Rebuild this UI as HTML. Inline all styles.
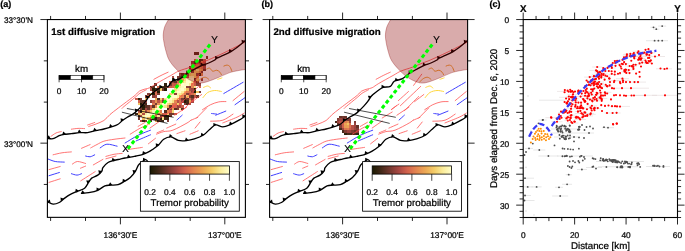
<!DOCTYPE html>
<html><head><meta charset="utf-8"><title>Figure</title>
<style>html,body{margin:0;padding:0;background:#fff;}svg{display:block;will-change:transform;}text{font-family:"Liberation Sans", sans-serif;fill:#000;text-rendering:geometricPrecision;stroke:#000;stroke-width:0.22px;}</style>
</head><body>
<svg width="685" height="251" viewBox="0 0 685 251">
<defs>
<linearGradient id="laj" x1="0" y1="0" x2="1" y2="0"><stop offset="0" stop-color="#1A1A01"/><stop offset="0.11" stop-color="#422818"/><stop offset="0.22" stop-color="#73382F"/><stop offset="0.33" stop-color="#A54742"/><stop offset="0.44" stop-color="#D2624D"/><stop offset="0.56" stop-color="#E48751"/><stop offset="0.67" stop-color="#ECA855"/><stop offset="0.78" stop-color="#F4CC68"/><stop offset="0.89" stop-color="#FBEC9A"/><stop offset="1" stop-color="#FFFECB"/></linearGradient>
<clipPath id="clipmap"><rect x="47.4" y="19.55" width="198" height="197.8"/></clipPath>
<g id="mapbase">
<g fill="none" stroke="#ff4848" stroke-width="0.75" stroke-linecap="round" stroke-linejoin="round">
<path d="M51,136.3 C51.83,135.75 54.3,133.78 56,133 C57.7,132.22 60.33,131.83 61.2,131.6"/>
<path d="M71.4,129.2 C72.5,129.07 75.8,128.5 78,128.4 C80.2,128.3 83.5,128.57 84.6,128.6"/>
<path d="M88.7,126.5 C89.92,126.08 93.47,125 96,124 C98.53,123 101.57,122.08 103.9,120.5 C106.23,118.92 107.82,116.42 110,114.5 C112.18,112.58 114.67,110.8 117,109 C119.33,107.2 120.98,105.98 124,103.7 C127.02,101.42 132.55,97.38 135.1,95.3 C137.65,93.22 137.67,92.23 139.3,91.2 C140.93,90.17 143.12,89.68 144.9,89.1 C146.68,88.52 148.07,88.63 150,87.7 C151.93,86.77 153.03,85.53 156.5,83.5 C159.97,81.47 167.07,77.58 170.8,75.5 C174.53,73.42 175.65,72.38 178.9,71 C182.15,69.62 186.78,68.5 190.3,67.2 C193.82,65.9 196.98,64.42 200,63.2 C203.02,61.98 204.43,61.62 208.4,59.9 C212.37,58.18 219.37,55 223.8,52.9 C228.23,50.8 231.52,49.08 235,47.3 C238.48,45.52 243.08,43.05 244.7,42.2"/>
<path d="M87.6,125 C88.78,124.58 93.52,122.92 94.7,122.5"/>
<path d="M122,108.3 C122.33,108 121.82,108.32 124,106.5 C126.18,104.68 132.43,99.62 135.1,97.4 C137.77,95.18 138.13,94.47 140,93.2 C141.87,91.93 145.25,90.37 146.3,89.8"/>
<path d="M153.9,79.3 C155.08,78.67 158.63,76.68 161,75.5 C163.37,74.32 166.92,72.75 168.1,72.2"/>
<path d="M53.1,154.8 C54.58,154.47 58.95,153.28 62,152.8 C65.05,152.32 69.83,152.05 71.4,151.9"/>
<path d="M81.5,148.3 C82.93,147.68 88.67,145.22 90.1,144.6"/>
<path d="M90.7,147.9 C91.75,147.33 94.8,145.62 97,144.5 C99.2,143.38 101.07,142.07 103.9,141.2 C106.73,140.33 110.48,139.83 114,139.3 C117.52,138.77 123.17,138.22 125,138"/>
<path d="M72.4,164.1 C73.25,163.67 75.3,161.6 77.5,161.5 C79.7,161.4 84.25,163.17 85.6,163.5"/>
<path d="M80.5,168.2 C81.35,167.85 84.75,166.45 85.6,166.1"/>
<path d="M49,169.6 C50.87,169.08 58.33,167.02 60.2,166.5"/>
<path d="M93.3,164.9 C94.9,163.98 101.3,160.32 102.9,159.4"/>
<path d="M105.9,156.4 C107.25,156.05 111.28,154.8 114,154.3 C116.72,153.8 120.83,153.55 122.2,153.4"/>
<path d="M105.9,158.8 C107.58,158.33 114.32,156.47 116,156"/>
<path d="M80.8,180.8 C83.2,179.27 92.8,173.13 95.2,171.6"/>
<path d="M49,182.4 C50.87,181.8 58.33,179.4 60.2,178.8"/>
<path d="M130.2,134.2 C131.88,133.18 137.43,129.62 140.3,128.1 C143.17,126.58 146.22,125.6 147.4,125.1"/>
<path d="M128.1,149.5 C130.47,149.15 139.93,147.75 142.3,147.4"/>
<path d="M148.4,143.8 C149.58,142.88 154.32,139.22 155.5,138.3"/>
<path d="M156.5,134.2 C157.7,133.77 160.98,132.27 163.7,131.6 C166.42,130.93 168.92,131.63 172.8,130.2 C176.68,128.77 183.97,124.7 187,123 C190.03,121.3 190.33,120.5 191,120"/>
<path d="M157,132.8 C158.12,132.33 162.58,130.47 163.7,130"/>
<path d="M176.9,133.6 C178.25,133.13 183.65,131.27 185,130.8"/>
<path d="M190,134.2 C191.37,133.63 196.83,131.37 198.2,130.8"/>
<path d="M195.1,128.1 C195.92,127.08 199.18,123.02 200,122"/>
<path d="M166.7,128.1 C168.22,127.43 174.28,124.77 175.8,124.1"/>
<path d="M196.4,118.2 C198.08,116.5 204.82,109.7 206.5,108"/>
<path d="M210.6,121.2 C212.63,121.03 219.07,121.38 222.8,120.2 C226.53,119.02 231.3,115.12 233,114.1"/>
<path d="M222.8,122.9 C225.17,121.95 233.45,118.83 237,117.2 C240.55,115.57 242.92,113.78 244.1,113.1"/>
<path d="M233,100.6 C234.85,99.08 242.25,93.02 244.1,91.5"/>
<path d="M202.5,109.7 C203.85,108.87 207.88,106 210.6,104.7 C213.32,103.4 216.25,102.42 218.8,101.9 C221.35,101.38 224.72,101.65 225.9,101.6"/>
<path d="M169.6,109.1 C170.78,108.27 175.52,104.93 176.7,104.1"/>
<path d="M174.7,115.2 C176.72,113.85 184.78,108.45 186.8,107.1"/>
<path d="M190.9,120.3 C192.05,119.8 196.65,117.8 197.8,117.3"/>
<path d="M176.2,100.6 C177.88,99.08 184.62,93.02 186.3,91.5"/>
<path d="M178.2,105.7 C181.58,102.48 195.12,89.62 198.5,86.4"/>
<path d="M191.4,85.4 C192.75,83.53 198.15,76.07 199.5,74.2"/>
<path d="M192.4,101.6 C193.93,100.42 200.07,95.68 201.6,94.5"/>
<path d="M169.1,109.7 C169.95,109.03 173.35,106.37 174.2,105.7"/>
<path d="M138.1,126.4 C139.28,125.72 144.02,122.98 145.2,122.3"/>
<path d="M150,128 C151.67,126.83 158.33,122.17 160,121"/>
<path d="M160,118 C161.67,117 168.33,113 170,112"/>
<path d="M182.2,110.8 C184.57,108.42 194.03,98.88 196.4,96.5"/>
</g>
<g fill="none" stroke="#4040ff" stroke-width="1.0" stroke-linecap="round" stroke-linejoin="round">
<path d="M48,159 C49.2,159.42 52.48,160.98 55.2,161.5 C57.92,162.02 62.78,162 64.3,162.1"/>
<path d="M85.6,156 C86.35,156.13 88.58,157 90.1,156.8 C91.62,156.6 93.93,155.13 94.7,154.8"/>
<path d="M100.2,147.9 C101.32,147.28 104.08,144.48 106.9,144.2 C109.72,143.92 115.4,145.87 117.1,146.2"/>
<path d="M49,175.7 C50.73,175.17 57.67,173.03 59.4,172.5"/>
<path d="M71.4,173.7 C72.33,173.93 75.32,175.1 77,175.1 C78.68,175.1 80.75,173.93 81.5,173.7"/>
<path d="M125.1,143 C127.3,141.7 134.07,137.33 138.3,135.2 C142.53,133.07 148.47,131.03 150.5,130.2"/>
<path d="M136.2,140.9 C138.58,139.88 148.12,135.82 150.5,134.8"/>
<path d="M176.9,120 C177.78,119.2 181.32,116 182.2,115.2"/>
<path d="M211.6,113.5 C212.45,113.6 215.85,114 216.7,114.1"/>
<path d="M215.7,115.2 C217.38,114.52 224.12,111.78 225.8,111.1"/>
<path d="M223.8,93.5 C227.02,91.63 239.88,84.17 243.1,82.3"/>
<path d="M235,104.7 C236.68,103.52 243.42,98.78 245.1,97.6"/>
</g>
<g fill="none" stroke="#f0a53c" stroke-width="1.0" stroke-linecap="round" stroke-linejoin="round">
<path d="M206.7,69.1 C207.2,68.93 208.7,67.75 209.7,68.1 C210.7,68.45 211.52,70.85 212.7,71.2 C213.88,71.55 215.6,70.03 216.8,70.2 C218,70.37 219.15,71.47 219.9,72.2 C220.65,72.93 221.07,74.2 221.3,74.6"/>
<path d="M197.5,81.9 C198.18,81.3 200.25,79.07 201.6,78.3 C202.95,77.53 204.42,77.13 205.6,77.3 C206.78,77.47 208.18,78.97 208.7,79.3"/>
<path d="M223.9,66.1 C224.4,65.93 225.92,65.03 226.9,65.1 C227.88,65.17 228.97,65.48 229.8,66.5 C230.63,67.52 231.55,70.42 231.9,71.2"/>
</g>
<g fill="none" stroke="#ffd840" stroke-width="1.0" stroke-linecap="round" stroke-linejoin="round">
<path d="M203.6,87.4 C204.28,87.17 206.52,85.9 207.7,86 C208.88,86.1 210.2,87.67 210.7,88"/>
<path d="M203,97.6 C203.78,96.75 205.73,93.68 207.7,92.5 C209.67,91.32 212.53,90.67 214.8,90.5 C217.07,90.33 220.22,91.33 221.3,91.5"/>
<path d="M217.8,79.3 C218.48,79.07 221.22,78.13 221.9,77.9"/>
</g>
</g>
<g id="maplines">
<g fill="none" stroke="#000" stroke-width="0.7">
<path d="M126.9,108.5 L173.6,117.3" />
<path d="M121.9,112.2 L167.5,123.4" />
</g>
<g fill="none" stroke="#000" stroke-width="1.35" stroke-linejoin="round" stroke-linecap="round">
<path d="M47.4,138.3 C48.35,138.37 51.13,139.13 53.1,138.7 C55.07,138.27 57.33,136.43 59.2,135.7 C61.07,134.97 62.27,134.63 64.3,134.3 C66.33,133.97 68.87,133.98 71.4,133.7 C73.93,133.42 76.8,132.78 79.5,132.6 C82.2,132.42 84.88,132.93 87.6,132.6 C90.32,132.27 93.08,131.2 95.8,130.6 C98.52,130 101.3,129.63 103.9,129 C106.5,128.37 109.1,127.55 111.4,126.8 C113.7,126.05 115.85,125.55 117.7,124.5 C119.55,123.45 120.9,121.7 122.5,120.5 C124.1,119.3 125.57,118.37 127.3,117.3 C129.03,116.23 131.32,115.17 132.9,114.1 C134.48,113.03 135.35,112.23 136.8,110.9 C138.25,109.57 140.13,107.68 141.6,106.1 C143.07,104.52 144.4,102.98 145.6,101.4 C146.8,99.82 147.93,97.73 148.8,96.6 C149.67,95.47 149.62,95.62 150.8,94.6 C151.98,93.58 154.2,91.7 155.9,90.5 C157.6,89.3 158.97,88.08 161,87.4 C163.03,86.72 166.25,87.42 168.1,86.4 C169.95,85.38 170.07,82.58 172.1,81.3 C174.13,80.02 177.75,80.05 180.3,78.7 C182.85,77.35 184.7,74.97 187.4,73.2 C190.1,71.43 193.97,69.45 196.5,68.1 C199.03,66.75 200.57,65.95 202.6,65.1 C204.63,64.25 206.67,63.85 208.7,63 C210.73,62.15 213.43,60.8 214.8,60 C216.17,59.2 215.42,59 216.9,58.2 C218.38,57.4 221.43,56.27 223.7,55.2 C225.97,54.13 228.23,53.12 230.5,51.8 C232.77,50.48 235.02,49 237.3,47.3 C239.58,45.6 242.75,42.82 244.2,41.6 C245.65,40.38 245.7,40.27 246,40"/>
<path d="M47.4,201.5 C47.5,201.6 47.05,201.67 48,202.1 C48.95,202.53 51.23,204.03 53.1,204.1 C54.97,204.17 57.33,203.45 59.2,202.5 C61.07,201.55 62.43,199.75 64.3,198.4 C66.17,197.05 68.2,195.58 70.4,194.4 C72.6,193.22 75.13,192.32 77.5,191.3 C79.87,190.28 82.73,189.82 84.6,188.3 C86.47,186.78 87.52,183.9 88.7,182.2 C89.88,180.5 90.18,179.28 91.7,178.1 C93.22,176.92 96.1,176.28 97.8,175.1 C99.5,173.92 101.05,172.25 101.9,171 C102.75,169.75 101.88,169.02 102.9,167.6 C103.92,166.18 106.15,163.68 108,162.5 C109.85,161.32 111.97,161.07 114,160.5 C116.03,159.93 118.37,159.52 120.2,159.1 C122.03,158.68 123.32,158.32 125,158 C126.68,157.68 128.47,157.53 130.3,157.2 C132.13,156.87 134,156.43 136,156 C138,155.57 140.37,155.2 142.3,154.6 C144.23,154 145.9,153.25 147.6,152.4 C149.3,151.55 150.67,150.73 152.5,149.5 C154.33,148.27 156.73,146.7 158.6,145 C160.47,143.3 161.67,140.65 163.7,139.3 C165.73,137.95 168.37,136.72 170.8,136.9 C173.23,137.08 175.7,139.78 178.3,140.4 C180.9,141.02 183.72,140.85 186.4,140.6 C189.08,140.35 191.55,139.83 194.4,138.9 C197.25,137.97 200.97,136.58 203.5,135 C206.03,133.42 207.57,131.08 209.6,129.4 C211.63,127.72 213.5,125.32 215.7,124.9 C217.9,124.48 220.27,127 222.8,126.9 C225.33,126.8 228.2,125.42 230.9,124.3 C233.6,123.18 236.63,121.55 239,120.2 C241.37,118.85 243.93,116.98 245.1,116.2 C246.27,115.42 245.85,115.62 246,115.5"/>
<path d="M81.5,193.4 C82.7,193.28 85.98,193.22 88.7,192.7 C91.42,192.18 95.1,191.45 97.8,190.3 C100.5,189.15 102.7,186.65 104.9,185.8 C107.1,184.95 108.8,185.4 111,185.2 C113.2,185 115.9,185.22 118.1,184.6 C120.3,183.98 122.17,182.7 124.2,181.5 C126.23,180.3 128.43,179.1 130.3,177.4 C132.17,175.7 134.05,173.33 135.4,171.3 C136.75,169.27 137.38,166.7 138.4,165.2 C139.42,163.7 140.3,163.22 141.5,162.3 C142.7,161.38 144.52,159.75 145.6,159.7 C146.68,159.65 147.27,161.12 148,162 C148.73,162.88 149.67,164.5 150,165"/>
</g>
<g fill="#000" stroke="none">
<path d="M46.66,138.25 L50.55,138.52 L48.81,135.35 Z"/>
<path d="M62.14,134.89 L65.9,133.86 L63.22,131.44 Z"/>
<path d="M77.57,132.86 L81.43,132.34 L79.09,129.59 Z"/>
<path d="M93.1,131.26 L96.89,130.33 L94.28,127.84 Z"/>
<path d="M109.11,127.47 L112.85,126.38 L110.12,124 Z"/>
<path d="M121,121.75 L124,119.25 L120.55,118.16 Z"/>
<path d="M135.29,112.14 L138.31,109.66 L134.87,108.55 Z"/>
<path d="M147.1,99.15 L149.27,95.9 L145.65,95.84 Z"/>
<path d="M159.33,88.41 L162.67,86.39 L159.42,84.8 Z"/>
<path d="M172.44,81.19 L176.16,80.01 L173.38,77.7 Z"/>
<path d="M186.33,73.8 L189.73,71.9 L186.54,70.19 Z"/>
<path d="M200.45,66.16 L203.95,64.44 L200.86,62.57 Z"/>
<path d="M215.42,59.47 L218.38,56.93 L214.92,55.89 Z"/>
<path d="M228.76,52.67 L232.24,50.93 L229.14,49.08 Z"/>
<path d="M241.99,43.43 L244.99,40.95 L241.55,39.84 Z"/>
<path d="M46.91,201.67 L50.54,203.1 L49.84,199.55 Z"/>
<path d="M60.88,201.15 L63.92,198.7 L60.5,197.56 Z"/>
<path d="M75.22,192.3 L78.79,190.74 L75.79,188.73 Z"/>
<path d="M87.61,183.82 L89.79,180.58 L86.18,180.5 Z"/>
<path d="M99.07,173.83 L101.83,171.07 L98.3,170.3 Z"/>
<path d="M111.64,161.29 L115.34,160.05 L112.53,157.78 Z"/>
<path d="M126.78,157.73 L130.63,157.15 L128.25,154.43 Z"/>
<path d="M142.32,154.59 L145.92,153.1 L142.95,151.04 Z"/>
<path d="M156,146.92 L159.14,144.6 L155.76,143.31 Z"/>
<path d="M168.95,137.52 L172.65,136.28 L169.83,134.02 Z"/>
<path d="M184.68,140.96 L188.5,140.15 L185.96,137.58 Z"/>
<path d="M200.72,136.19 L204.3,134.66 L201.31,132.63 Z"/>
<path d="M213.55,126.49 L216.69,124.17 L213.31,122.88 Z"/>
<path d="M229.04,124.9 L232.76,123.7 L229.97,121.4 Z"/>
<path d="M242.38,117.98 L245.64,115.85 L242.34,114.37 Z"/>
<path d="M80.86,193.46 L84.74,193.09 L82.5,190.25 Z"/>
<path d="M96.53,191.11 L99.82,189.02 L96.55,187.49 Z"/>
<path d="M108.46,185.45 L112.34,185.07 L110.1,182.23 Z"/>
<path d="M122.46,182.38 L125.94,180.62 L122.82,178.79 Z"/>
<path d="M133.56,173.5 L136.06,170.51 L132.47,170.06 Z"/>
<path d="M142.97,161.37 L146.26,159.28 L142.99,157.76 Z"/>
</g>
</g>
<path id="blob" d="M168.5,19.5 C167.85,20.75 165.48,24.42 164.6,27 C163.72,29.58 163.32,32.5 163.2,35 C163.08,37.5 163.48,39.47 163.9,42 C164.32,44.53 164.83,47.2 165.7,50.2 C166.57,53.2 167.35,56.85 169.1,60 C170.85,63.15 173.5,66.22 176.2,69.1 C178.9,71.98 182.08,75.1 185.3,77.3 C188.52,79.5 192.62,81.37 195.5,82.3 C198.38,83.23 200.07,83.2 202.6,82.9 C205.13,82.6 208,81.43 210.7,80.5 C213.4,79.57 215.62,78.62 218.8,77.3 C221.98,75.98 226.27,73.77 229.8,72.6 C233.33,71.43 237.13,70.85 240,70.3 C242.87,69.75 245.83,69.47 247,69.3 L247,19.5 Z" fill="#8b0000" fill-opacity="0.33" stroke="#8b0000" stroke-opacity="0.45" stroke-width="0.7"/>
<g id="mapstatic">
<g id="frame" fill="none" stroke="#000">
<rect x="47.4" y="19.55" width="198" height="197.8" stroke-width="1.1"/>
<path d="M120.4,19.55 v-7 M120.4,217.35 v7 M224.8,19.55 v-7 M224.8,217.35 v7 M50.6,19.55 v-3.6 M50.6,217.35 v3.6 M85.5,19.55 v-3.6 M85.5,217.35 v3.6 M155.3,19.55 v-3.6 M155.3,217.35 v3.6 M190.2,19.55 v-3.6 M190.2,217.35 v3.6 M47.4,19.55 h-7 M245.4,19.55 h7 M47.4,143.15 h-7 M245.4,143.15 h7 M47.4,60.85 h-3.6 M245.4,60.85 h3.6 M47.4,102.1 h-3.6 M245.4,102.1 h3.6 M47.4,184.45 h-3.6 M245.4,184.45 h3.6 " stroke-width="0.85"/>
</g>
<text x="120.4" y="237.8" font-size="8.35" text-anchor="middle">136°30'E</text>
<text x="224.8" y="237.8" font-size="8.35" text-anchor="middle">137°00'E</text>
<g id="scalebar">
<rect x="59.1" y="75.3" width="11.22" height="4.3" fill="#000" stroke="#000" stroke-width="0.6"/>
<rect x="70.32" y="75.3" width="11.22" height="4.3" fill="#fff" stroke="#000" stroke-width="0.6"/>
<rect x="81.54" y="75.3" width="11.22" height="4.3" fill="#000" stroke="#000" stroke-width="0.6"/>
<rect x="92.76" y="75.3" width="11.22" height="4.3" fill="#fff" stroke="#000" stroke-width="0.6"/>
<path d="M59.1,75.3 V82.3 M81.54,75.3 V82.3 M103.98,75.3 V82.3 " stroke="#000" stroke-width="0.7" fill="none"/>
<text x="59.1" y="94" font-size="8.35" text-anchor="middle">0</text>
<text x="81.54" y="94" font-size="8.35" text-anchor="middle">10</text>
<text x="103.98" y="94" font-size="8.35" text-anchor="middle">20</text>
<text x="81.5" y="71.6" font-size="9.75" text-anchor="middle">km</text>
</g>
<g id="legend">
<rect x="140.4" y="161.6" width="98.9" height="49.6" fill="#fff" stroke="#000" stroke-width="0.85"/>
<rect x="150" y="165.9" width="79.4" height="8.2" fill="url(#laj)" stroke="#000" stroke-width="0.8"/>
<path d="M150,174.1 V180.8 M169.85,174.1 V180.8 M189.7,174.1 V180.8 M209.55,174.1 V180.8 M229.4,174.1 V180.8 " stroke="#000" stroke-width="0.7" fill="none"/>
<text x="150" y="194.8" font-size="8.35" text-anchor="middle">0.2</text>
<text x="169.85" y="194.8" font-size="8.35" text-anchor="middle">0.4</text>
<text x="189.7" y="194.8" font-size="8.35" text-anchor="middle">0.6</text>
<text x="209.55" y="194.8" font-size="8.35" text-anchor="middle">0.8</text>
<text x="229.4" y="194.8" font-size="8.35" text-anchor="middle">1.0</text>
<text x="189.7" y="206" font-size="9.75" text-anchor="middle">Tremor probability</text>
</g>
<text x="125.4" y="152.3" font-size="9.75" text-anchor="middle">X</text>
<text x="214.4" y="42.9" font-size="9.75" text-anchor="middle">Y</text>
</g>
</defs>
<rect width="685" height="251" fill="#fff"/>
<g>
<g clip-path="url(#clipmap)">
<g shape-rendering="crispEdges">
<rect x="205.86" y="56.38" width="2.49" height="2.49" fill="#7a3a32"/>
<rect x="193.66" y="58.82" width="2.49" height="2.49" fill="#d4674e"/>
<rect x="198.54" y="58.82" width="2.49" height="2.49" fill="#402717"/>
<rect x="200.98" y="58.82" width="2.49" height="2.49" fill="#552e21"/>
<rect x="203.42" y="58.82" width="2.49" height="2.49" fill="#cf604c"/>
<rect x="191.22" y="61.26" width="2.49" height="2.49" fill="#8f403a"/>
<rect x="193.66" y="61.26" width="2.49" height="2.49" fill="#4a2b1c"/>
<rect x="196.1" y="61.26" width="2.49" height="2.49" fill="#a44742"/>
<rect x="198.54" y="61.26" width="2.49" height="2.49" fill="#4f2c1e"/>
<rect x="200.98" y="61.26" width="2.49" height="2.49" fill="#e69052"/>
<rect x="203.42" y="61.26" width="2.49" height="2.49" fill="#bd5548"/>
<rect x="191.22" y="63.7" width="2.49" height="2.49" fill="#d76d4e"/>
<rect x="193.66" y="63.7" width="2.49" height="2.49" fill="#c35949"/>
<rect x="196.1" y="63.7" width="2.49" height="2.49" fill="#e48851"/>
<rect x="198.54" y="63.7" width="2.49" height="2.49" fill="#d4654d"/>
<rect x="200.98" y="63.7" width="2.49" height="2.49" fill="#7c3b32"/>
<rect x="203.42" y="63.7" width="2.49" height="2.49" fill="#592f23"/>
<rect x="188.78" y="66.14" width="2.49" height="2.49" fill="#743830"/>
<rect x="191.22" y="66.14" width="2.49" height="2.49" fill="#e48951"/>
<rect x="193.66" y="66.14" width="2.49" height="2.49" fill="#e99a53"/>
<rect x="196.1" y="66.14" width="2.49" height="2.49" fill="#e38451"/>
<rect x="198.54" y="66.14" width="2.49" height="2.49" fill="#e79453"/>
<rect x="200.98" y="66.14" width="2.49" height="2.49" fill="#de7a50"/>
<rect x="203.42" y="66.14" width="2.49" height="2.49" fill="#ab4a43"/>
<rect x="188.78" y="68.58" width="2.49" height="2.49" fill="#ae4c44"/>
<rect x="191.22" y="68.58" width="2.49" height="2.49" fill="#813c34"/>
<rect x="193.66" y="68.58" width="2.49" height="2.49" fill="#eca755"/>
<rect x="196.1" y="68.58" width="2.49" height="2.49" fill="#f9e48e"/>
<rect x="198.54" y="68.58" width="2.49" height="2.49" fill="#efb55c"/>
<rect x="200.98" y="68.58" width="2.49" height="2.49" fill="#e99d54"/>
<rect x="203.42" y="68.58" width="2.49" height="2.49" fill="#6c362c"/>
<rect x="186.34" y="71.02" width="2.49" height="2.49" fill="#b04e45"/>
<rect x="191.22" y="71.02" width="2.49" height="2.49" fill="#893f37"/>
<rect x="193.66" y="71.02" width="2.49" height="2.49" fill="#f3c765"/>
<rect x="196.1" y="71.02" width="2.49" height="2.49" fill="#f1c162"/>
<rect x="198.54" y="71.02" width="2.49" height="2.49" fill="#e58c52"/>
<rect x="200.98" y="71.02" width="2.49" height="2.49" fill="#813c34"/>
<rect x="179.02" y="73.46" width="2.49" height="2.49" fill="#90413a"/>
<rect x="181.46" y="73.46" width="2.49" height="2.49" fill="#5a3023"/>
<rect x="183.9" y="73.46" width="2.49" height="2.49" fill="#a64742"/>
<rect x="186.34" y="73.46" width="2.49" height="2.49" fill="#93423b"/>
<rect x="188.78" y="73.46" width="2.49" height="2.49" fill="#f2c464"/>
<rect x="191.22" y="73.46" width="2.49" height="2.49" fill="#f6d474"/>
<rect x="193.66" y="73.46" width="2.49" height="2.49" fill="#f5d272"/>
<rect x="196.1" y="73.46" width="2.49" height="2.49" fill="#92413b"/>
<rect x="198.54" y="73.46" width="2.49" height="2.49" fill="#3a2513"/>
<rect x="200.98" y="73.46" width="2.49" height="2.49" fill="#e68f52"/>
<rect x="171.7" y="75.9" width="2.49" height="2.49" fill="#ab4a43"/>
<rect x="176.58" y="75.9" width="2.49" height="2.49" fill="#793a31"/>
<rect x="179.02" y="75.9" width="2.49" height="2.49" fill="#613226"/>
<rect x="181.46" y="75.9" width="2.49" height="2.49" fill="#442919"/>
<rect x="183.9" y="75.9" width="2.49" height="2.49" fill="#e48751"/>
<rect x="186.34" y="75.9" width="2.49" height="2.49" fill="#ba5447"/>
<rect x="188.78" y="75.9" width="2.49" height="2.49" fill="#fcf2a9"/>
<rect x="191.22" y="75.9" width="2.49" height="2.49" fill="#fdf5b1"/>
<rect x="193.66" y="75.9" width="2.49" height="2.49" fill="#f5cf6d"/>
<rect x="196.1" y="75.9" width="2.49" height="2.49" fill="#ea9f54"/>
<rect x="171.7" y="78.34" width="2.49" height="2.49" fill="#3b2514"/>
<rect x="176.58" y="78.34" width="2.49" height="2.49" fill="#69352a"/>
<rect x="179.02" y="78.34" width="2.49" height="2.49" fill="#aa4a43"/>
<rect x="181.46" y="78.34" width="2.49" height="2.49" fill="#e89753"/>
<rect x="183.9" y="78.34" width="2.49" height="2.49" fill="#f7db80"/>
<rect x="186.34" y="78.34" width="2.49" height="2.49" fill="#fefcc5"/>
<rect x="188.78" y="78.34" width="2.49" height="2.49" fill="#fffecb"/>
<rect x="191.22" y="78.34" width="2.49" height="2.49" fill="#fffecb"/>
<rect x="193.66" y="78.34" width="2.49" height="2.49" fill="#5d3125"/>
<rect x="196.1" y="78.34" width="2.49" height="2.49" fill="#f3c665"/>
<rect x="200.98" y="78.34" width="2.49" height="2.49" fill="#95423c"/>
<rect x="169.26" y="80.78" width="2.49" height="2.49" fill="#ce5f4c"/>
<rect x="171.7" y="80.78" width="2.49" height="2.49" fill="#8f403a"/>
<rect x="174.14" y="80.78" width="2.49" height="2.49" fill="#633327"/>
<rect x="176.58" y="80.78" width="2.49" height="2.49" fill="#d5694e"/>
<rect x="179.02" y="80.78" width="2.49" height="2.49" fill="#f4cb67"/>
<rect x="181.46" y="80.78" width="2.49" height="2.49" fill="#f4cd6a"/>
<rect x="183.9" y="80.78" width="2.49" height="2.49" fill="#fbed9d"/>
<rect x="186.34" y="80.78" width="2.49" height="2.49" fill="#fffecb"/>
<rect x="188.78" y="80.78" width="2.49" height="2.49" fill="#fffecb"/>
<rect x="191.22" y="80.78" width="2.49" height="2.49" fill="#f9e48e"/>
<rect x="193.66" y="80.78" width="2.49" height="2.49" fill="#d4654d"/>
<rect x="196.1" y="80.78" width="2.49" height="2.49" fill="#783931"/>
<rect x="154.62" y="83.22" width="2.49" height="2.49" fill="#542e21"/>
<rect x="164.38" y="83.22" width="2.49" height="2.49" fill="#30220e"/>
<rect x="169.26" y="83.22" width="2.49" height="2.49" fill="#7f3c34"/>
<rect x="171.7" y="83.22" width="2.49" height="2.49" fill="#cc5e4b"/>
<rect x="174.14" y="83.22" width="2.49" height="2.49" fill="#c25849"/>
<rect x="176.58" y="83.22" width="2.49" height="2.49" fill="#e89653"/>
<rect x="179.02" y="83.22" width="2.49" height="2.49" fill="#f6d373"/>
<rect x="181.46" y="83.22" width="2.49" height="2.49" fill="#fffecb"/>
<rect x="183.9" y="83.22" width="2.49" height="2.49" fill="#fefac0"/>
<rect x="186.34" y="83.22" width="2.49" height="2.49" fill="#fffdc9"/>
<rect x="188.78" y="83.22" width="2.49" height="2.49" fill="#fae894"/>
<rect x="191.22" y="83.22" width="2.49" height="2.49" fill="#e18050"/>
<rect x="193.66" y="83.22" width="2.49" height="2.49" fill="#c55a4a"/>
<rect x="196.1" y="83.22" width="2.49" height="2.49" fill="#813c34"/>
<rect x="198.54" y="83.22" width="2.49" height="2.49" fill="#94423b"/>
<rect x="149.74" y="85.66" width="2.49" height="2.49" fill="#392513"/>
<rect x="152.18" y="85.66" width="2.49" height="2.49" fill="#582f22"/>
<rect x="157.06" y="85.66" width="2.49" height="2.49" fill="#d86e4e"/>
<rect x="159.5" y="85.66" width="2.49" height="2.49" fill="#b65146"/>
<rect x="161.94" y="85.66" width="2.49" height="2.49" fill="#f2c363"/>
<rect x="164.38" y="85.66" width="2.49" height="2.49" fill="#e07f50"/>
<rect x="166.82" y="85.66" width="2.49" height="2.49" fill="#8a3f38"/>
<rect x="169.26" y="85.66" width="2.49" height="2.49" fill="#cc5f4c"/>
<rect x="171.7" y="85.66" width="2.49" height="2.49" fill="#d66b4e"/>
<rect x="174.14" y="85.66" width="2.49" height="2.49" fill="#e48651"/>
<rect x="176.58" y="85.66" width="2.49" height="2.49" fill="#fbec9b"/>
<rect x="179.02" y="85.66" width="2.49" height="2.49" fill="#fbee9f"/>
<rect x="181.46" y="85.66" width="2.49" height="2.49" fill="#fefabf"/>
<rect x="183.9" y="85.66" width="2.49" height="2.49" fill="#fffecb"/>
<rect x="186.34" y="85.66" width="2.49" height="2.49" fill="#8f403a"/>
<rect x="188.78" y="85.66" width="2.49" height="2.49" fill="#73382f"/>
<rect x="191.22" y="85.66" width="2.49" height="2.49" fill="#e48751"/>
<rect x="193.66" y="85.66" width="2.49" height="2.49" fill="#f9e189"/>
<rect x="198.54" y="85.66" width="2.49" height="2.49" fill="#d3654d"/>
<rect x="149.74" y="88.1" width="2.49" height="2.49" fill="#aa4a43"/>
<rect x="152.18" y="88.1" width="2.49" height="2.49" fill="#231d06"/>
<rect x="154.62" y="88.1" width="2.49" height="2.49" fill="#3e2716"/>
<rect x="157.06" y="88.1" width="2.49" height="2.49" fill="#4b2b1c"/>
<rect x="159.5" y="88.1" width="2.49" height="2.49" fill="#f4ce6b"/>
<rect x="161.94" y="88.1" width="2.49" height="2.49" fill="#6e362d"/>
<rect x="164.38" y="88.1" width="2.49" height="2.49" fill="#231d06"/>
<rect x="174.14" y="88.1" width="2.49" height="2.49" fill="#f7db80"/>
<rect x="176.58" y="88.1" width="2.49" height="2.49" fill="#fdf3ad"/>
<rect x="179.02" y="88.1" width="2.49" height="2.49" fill="#fefac1"/>
<rect x="181.46" y="88.1" width="2.49" height="2.49" fill="#fffecb"/>
<rect x="183.9" y="88.1" width="2.49" height="2.49" fill="#fcf1a8"/>
<rect x="186.34" y="88.1" width="2.49" height="2.49" fill="#f1bf61"/>
<rect x="188.78" y="88.1" width="2.49" height="2.49" fill="#ab4b43"/>
<rect x="191.22" y="88.1" width="2.49" height="2.49" fill="#a14640"/>
<rect x="193.66" y="88.1" width="2.49" height="2.49" fill="#231d06"/>
<rect x="152.18" y="90.54" width="2.49" height="2.49" fill="#863e36"/>
<rect x="154.62" y="90.54" width="2.49" height="2.49" fill="#d5674e"/>
<rect x="157.06" y="90.54" width="2.49" height="2.49" fill="#231d06"/>
<rect x="171.7" y="90.54" width="2.49" height="2.49" fill="#f4ce6b"/>
<rect x="174.14" y="90.54" width="2.49" height="2.49" fill="#fcefa2"/>
<rect x="176.58" y="90.54" width="2.49" height="2.49" fill="#fffecb"/>
<rect x="179.02" y="90.54" width="2.49" height="2.49" fill="#fffecb"/>
<rect x="181.46" y="90.54" width="2.49" height="2.49" fill="#fbeea0"/>
<rect x="183.9" y="90.54" width="2.49" height="2.49" fill="#f1bd60"/>
<rect x="186.34" y="90.54" width="2.49" height="2.49" fill="#dd794f"/>
<rect x="188.78" y="90.54" width="2.49" height="2.49" fill="#d66a4e"/>
<rect x="191.22" y="90.54" width="2.49" height="2.49" fill="#92413b"/>
<rect x="193.66" y="90.54" width="2.49" height="2.49" fill="#231d06"/>
<rect x="196.1" y="90.54" width="2.49" height="2.49" fill="#f2c162"/>
<rect x="198.54" y="90.54" width="2.49" height="2.49" fill="#72382f"/>
<rect x="147.3" y="92.98" width="2.49" height="2.49" fill="#8a3f38"/>
<rect x="149.74" y="92.98" width="2.49" height="2.49" fill="#f2c564"/>
<rect x="152.18" y="92.98" width="2.49" height="2.49" fill="#231d06"/>
<rect x="154.62" y="92.98" width="2.49" height="2.49" fill="#d76d4e"/>
<rect x="157.06" y="92.98" width="2.49" height="2.49" fill="#803c34"/>
<rect x="169.26" y="92.98" width="2.49" height="2.49" fill="#f5d06f"/>
<rect x="171.7" y="92.98" width="2.49" height="2.49" fill="#fbed9d"/>
<rect x="174.14" y="92.98" width="2.49" height="2.49" fill="#8e4039"/>
<rect x="176.58" y="92.98" width="2.49" height="2.49" fill="#fdf3ad"/>
<rect x="179.02" y="92.98" width="2.49" height="2.49" fill="#fbeb98"/>
<rect x="181.46" y="92.98" width="2.49" height="2.49" fill="#f7d97c"/>
<rect x="183.9" y="92.98" width="2.49" height="2.49" fill="#e38651"/>
<rect x="186.34" y="92.98" width="2.49" height="2.49" fill="#873e37"/>
<rect x="188.78" y="92.98" width="2.49" height="2.49" fill="#be5648"/>
<rect x="191.22" y="92.98" width="2.49" height="2.49" fill="#d76c4e"/>
<rect x="193.66" y="92.98" width="2.49" height="2.49" fill="#e69152"/>
<rect x="144.86" y="95.42" width="2.49" height="2.49" fill="#883e37"/>
<rect x="147.3" y="95.42" width="2.49" height="2.49" fill="#dd794f"/>
<rect x="152.18" y="95.42" width="2.49" height="2.49" fill="#883e37"/>
<rect x="154.62" y="95.42" width="2.49" height="2.49" fill="#a24641"/>
<rect x="169.26" y="95.42" width="2.49" height="2.49" fill="#fefbc2"/>
<rect x="171.7" y="95.42" width="2.49" height="2.49" fill="#fffeca"/>
<rect x="174.14" y="95.42" width="2.49" height="2.49" fill="#fffecb"/>
<rect x="176.58" y="95.42" width="2.49" height="2.49" fill="#fcf1a7"/>
<rect x="179.02" y="95.42" width="2.49" height="2.49" fill="#edac57"/>
<rect x="181.46" y="95.42" width="2.49" height="2.49" fill="#e28351"/>
<rect x="183.9" y="95.42" width="2.49" height="2.49" fill="#7e3b33"/>
<rect x="186.34" y="95.42" width="2.49" height="2.49" fill="#f4ca67"/>
<rect x="188.78" y="95.42" width="2.49" height="2.49" fill="#793a31"/>
<rect x="191.22" y="95.42" width="2.49" height="2.49" fill="#542e20"/>
<rect x="193.66" y="95.42" width="2.49" height="2.49" fill="#b75246"/>
<rect x="196.1" y="95.42" width="2.49" height="2.49" fill="#5e3125"/>
<rect x="135.1" y="97.86" width="2.49" height="2.49" fill="#c75b4a"/>
<rect x="137.54" y="97.86" width="2.49" height="2.49" fill="#2e210d"/>
<rect x="139.98" y="97.86" width="2.49" height="2.49" fill="#7b3b32"/>
<rect x="144.86" y="97.86" width="2.49" height="2.49" fill="#f3c967"/>
<rect x="154.62" y="97.86" width="2.49" height="2.49" fill="#eeb059"/>
<rect x="157.06" y="97.86" width="2.49" height="2.49" fill="#482a1b"/>
<rect x="159.5" y="97.86" width="2.49" height="2.49" fill="#f6d677"/>
<rect x="161.94" y="97.86" width="2.49" height="2.49" fill="#c35949"/>
<rect x="164.38" y="97.86" width="2.49" height="2.49" fill="#fbeb98"/>
<rect x="166.82" y="97.86" width="2.49" height="2.49" fill="#fffecb"/>
<rect x="169.26" y="97.86" width="2.49" height="2.49" fill="#fffecb"/>
<rect x="171.7" y="97.86" width="2.49" height="2.49" fill="#fcf1a7"/>
<rect x="174.14" y="97.86" width="2.49" height="2.49" fill="#f9e188"/>
<rect x="176.58" y="97.86" width="2.49" height="2.49" fill="#f3c765"/>
<rect x="179.02" y="97.86" width="2.49" height="2.49" fill="#cd5f4c"/>
<rect x="181.46" y="97.86" width="2.49" height="2.49" fill="#773931"/>
<rect x="183.9" y="97.86" width="2.49" height="2.49" fill="#33230f"/>
<rect x="186.34" y="97.86" width="2.49" height="2.49" fill="#69352a"/>
<rect x="188.78" y="97.86" width="2.49" height="2.49" fill="#d3654d"/>
<rect x="191.22" y="97.86" width="2.49" height="2.49" fill="#833d35"/>
<rect x="137.54" y="100.3" width="2.49" height="2.49" fill="#d2624d"/>
<rect x="139.98" y="100.3" width="2.49" height="2.49" fill="#5e3125"/>
<rect x="142.42" y="100.3" width="2.49" height="2.49" fill="#572f22"/>
<rect x="144.86" y="100.3" width="2.49" height="2.49" fill="#9e453f"/>
<rect x="149.74" y="100.3" width="2.49" height="2.49" fill="#863e36"/>
<rect x="152.18" y="100.3" width="2.49" height="2.49" fill="#c15849"/>
<rect x="154.62" y="100.3" width="2.49" height="2.49" fill="#e89653"/>
<rect x="157.06" y="100.3" width="2.49" height="2.49" fill="#ba5347"/>
<rect x="159.5" y="100.3" width="2.49" height="2.49" fill="#e48751"/>
<rect x="161.94" y="100.3" width="2.49" height="2.49" fill="#873e37"/>
<rect x="164.38" y="100.3" width="2.49" height="2.49" fill="#fffecb"/>
<rect x="166.82" y="100.3" width="2.49" height="2.49" fill="#fffecb"/>
<rect x="169.26" y="100.3" width="2.49" height="2.49" fill="#fdf3ae"/>
<rect x="171.7" y="100.3" width="2.49" height="2.49" fill="#f8de85"/>
<rect x="174.14" y="100.3" width="2.49" height="2.49" fill="#e48851"/>
<rect x="176.58" y="100.3" width="2.49" height="2.49" fill="#b45046"/>
<rect x="179.02" y="100.3" width="2.49" height="2.49" fill="#d76d4e"/>
<rect x="181.46" y="100.3" width="2.49" height="2.49" fill="#9c443f"/>
<rect x="183.9" y="100.3" width="2.49" height="2.49" fill="#251e07"/>
<rect x="186.34" y="100.3" width="2.49" height="2.49" fill="#482a1b"/>
<rect x="188.78" y="100.3" width="2.49" height="2.49" fill="#ecaa56"/>
<rect x="191.22" y="100.3" width="2.49" height="2.49" fill="#a64842"/>
<rect x="137.54" y="102.74" width="2.49" height="2.49" fill="#f2c464"/>
<rect x="139.98" y="102.74" width="2.49" height="2.49" fill="#231d06"/>
<rect x="142.42" y="102.74" width="2.49" height="2.49" fill="#653329"/>
<rect x="144.86" y="102.74" width="2.49" height="2.49" fill="#46291a"/>
<rect x="152.18" y="102.74" width="2.49" height="2.49" fill="#dd794f"/>
<rect x="154.62" y="102.74" width="2.49" height="2.49" fill="#7c3b32"/>
<rect x="157.06" y="102.74" width="2.49" height="2.49" fill="#e79553"/>
<rect x="159.5" y="102.74" width="2.49" height="2.49" fill="#f8e088"/>
<rect x="161.94" y="102.74" width="2.49" height="2.49" fill="#fffecb"/>
<rect x="164.38" y="102.74" width="2.49" height="2.49" fill="#fffecb"/>
<rect x="166.82" y="102.74" width="2.49" height="2.49" fill="#f7dc81"/>
<rect x="169.26" y="102.74" width="2.49" height="2.49" fill="#f3c564"/>
<rect x="171.7" y="102.74" width="2.49" height="2.49" fill="#db754f"/>
<rect x="174.14" y="102.74" width="2.49" height="2.49" fill="#db754f"/>
<rect x="176.58" y="102.74" width="2.49" height="2.49" fill="#f4cc69"/>
<rect x="179.02" y="102.74" width="2.49" height="2.49" fill="#d76d4e"/>
<rect x="183.9" y="102.74" width="2.49" height="2.49" fill="#8e4039"/>
<rect x="186.34" y="102.74" width="2.49" height="2.49" fill="#472a1a"/>
<rect x="188.78" y="102.74" width="2.49" height="2.49" fill="#b45046"/>
<rect x="139.98" y="105.18" width="2.49" height="2.49" fill="#4c2b1d"/>
<rect x="142.42" y="105.18" width="2.49" height="2.49" fill="#231d06"/>
<rect x="144.86" y="105.18" width="2.49" height="2.49" fill="#582f22"/>
<rect x="147.3" y="105.18" width="2.49" height="2.49" fill="#663429"/>
<rect x="149.74" y="105.18" width="2.49" height="2.49" fill="#cc5f4c"/>
<rect x="152.18" y="105.18" width="2.49" height="2.49" fill="#603226"/>
<rect x="154.62" y="105.18" width="2.49" height="2.49" fill="#e79152"/>
<rect x="157.06" y="105.18" width="2.49" height="2.49" fill="#fef9bd"/>
<rect x="159.5" y="105.18" width="2.49" height="2.49" fill="#fef8ba"/>
<rect x="161.94" y="105.18" width="2.49" height="2.49" fill="#fdf6b6"/>
<rect x="164.38" y="105.18" width="2.49" height="2.49" fill="#f9e48e"/>
<rect x="166.82" y="105.18" width="2.49" height="2.49" fill="#ea9e54"/>
<rect x="169.26" y="105.18" width="2.49" height="2.49" fill="#613227"/>
<rect x="171.7" y="105.18" width="2.49" height="2.49" fill="#d5694e"/>
<rect x="174.14" y="105.18" width="2.49" height="2.49" fill="#d4654d"/>
<rect x="176.58" y="105.18" width="2.49" height="2.49" fill="#90413a"/>
<rect x="179.02" y="105.18" width="2.49" height="2.49" fill="#a84943"/>
<rect x="181.46" y="105.18" width="2.49" height="2.49" fill="#ce604c"/>
<rect x="139.98" y="107.62" width="2.49" height="2.49" fill="#753830"/>
<rect x="142.42" y="107.62" width="2.49" height="2.49" fill="#2f210d"/>
<rect x="144.86" y="107.62" width="2.49" height="2.49" fill="#a54742"/>
<rect x="147.3" y="107.62" width="2.49" height="2.49" fill="#6a352b"/>
<rect x="149.74" y="107.62" width="2.49" height="2.49" fill="#d2634d"/>
<rect x="152.18" y="107.62" width="2.49" height="2.49" fill="#f3c665"/>
<rect x="154.62" y="107.62" width="2.49" height="2.49" fill="#fefbc2"/>
<rect x="157.06" y="107.62" width="2.49" height="2.49" fill="#fffecb"/>
<rect x="159.5" y="107.62" width="2.49" height="2.49" fill="#fffdc7"/>
<rect x="166.82" y="107.62" width="2.49" height="2.49" fill="#432818"/>
<rect x="169.26" y="107.62" width="2.49" height="2.49" fill="#853d36"/>
<rect x="171.7" y="107.62" width="2.49" height="2.49" fill="#ea9e54"/>
<rect x="174.14" y="107.62" width="2.49" height="2.49" fill="#572f22"/>
<rect x="176.58" y="107.62" width="2.49" height="2.49" fill="#833d35"/>
<rect x="179.02" y="107.62" width="2.49" height="2.49" fill="#fcefa3"/>
<rect x="181.46" y="107.62" width="2.49" height="2.49" fill="#5d3125"/>
<rect x="137.54" y="110.06" width="2.49" height="2.49" fill="#c95d4b"/>
<rect x="139.98" y="110.06" width="2.49" height="2.49" fill="#482a1b"/>
<rect x="142.42" y="110.06" width="2.49" height="2.49" fill="#f2c564"/>
<rect x="144.86" y="110.06" width="2.49" height="2.49" fill="#b04e45"/>
<rect x="147.3" y="110.06" width="2.49" height="2.49" fill="#e58a51"/>
<rect x="149.74" y="110.06" width="2.49" height="2.49" fill="#f6d373"/>
<rect x="152.18" y="110.06" width="2.49" height="2.49" fill="#fef8bb"/>
<rect x="154.62" y="110.06" width="2.49" height="2.49" fill="#fffcc6"/>
<rect x="157.06" y="110.06" width="2.49" height="2.49" fill="#f3c765"/>
<rect x="159.5" y="110.06" width="2.49" height="2.49" fill="#df7c50"/>
<rect x="164.38" y="110.06" width="2.49" height="2.49" fill="#532e20"/>
<rect x="166.82" y="110.06" width="2.49" height="2.49" fill="#e48851"/>
<rect x="169.26" y="110.06" width="2.49" height="2.49" fill="#d5684e"/>
<rect x="171.7" y="110.06" width="2.49" height="2.49" fill="#f6d577"/>
<rect x="135.1" y="112.5" width="2.49" height="2.49" fill="#3c2615"/>
<rect x="137.54" y="112.5" width="2.49" height="2.49" fill="#eeb059"/>
<rect x="139.98" y="112.5" width="2.49" height="2.49" fill="#f9e189"/>
<rect x="142.42" y="112.5" width="2.49" height="2.49" fill="#b24f45"/>
<rect x="144.86" y="112.5" width="2.49" height="2.49" fill="#fbee9f"/>
<rect x="147.3" y="112.5" width="2.49" height="2.49" fill="#fffecb"/>
<rect x="149.74" y="112.5" width="2.49" height="2.49" fill="#fffecb"/>
<rect x="152.18" y="112.5" width="2.49" height="2.49" fill="#fefac1"/>
<rect x="154.62" y="112.5" width="2.49" height="2.49" fill="#eeaf59"/>
<rect x="157.06" y="112.5" width="2.49" height="2.49" fill="#cf604c"/>
<rect x="159.5" y="112.5" width="2.49" height="2.49" fill="#eeb059"/>
<rect x="161.94" y="112.5" width="2.49" height="2.49" fill="#ce604c"/>
<rect x="164.38" y="112.5" width="2.49" height="2.49" fill="#c95d4b"/>
<rect x="166.82" y="112.5" width="2.49" height="2.49" fill="#f3c765"/>
<rect x="169.26" y="112.5" width="2.49" height="2.49" fill="#6e362c"/>
<rect x="171.7" y="112.5" width="2.49" height="2.49" fill="#72382f"/>
<rect x="174.14" y="112.5" width="2.49" height="2.49" fill="#bb5447"/>
<rect x="137.54" y="114.94" width="2.49" height="2.49" fill="#432819"/>
<rect x="139.98" y="114.94" width="2.49" height="2.49" fill="#b35045"/>
<rect x="142.42" y="114.94" width="2.49" height="2.49" fill="#fbeb99"/>
<rect x="144.86" y="114.94" width="2.49" height="2.49" fill="#fffecb"/>
<rect x="147.3" y="114.94" width="2.49" height="2.49" fill="#fffcc5"/>
<rect x="149.74" y="114.94" width="2.49" height="2.49" fill="#f6d779"/>
<rect x="152.18" y="114.94" width="2.49" height="2.49" fill="#e79352"/>
<rect x="154.62" y="114.94" width="2.49" height="2.49" fill="#d86e4e"/>
<rect x="157.06" y="114.94" width="2.49" height="2.49" fill="#fae690"/>
<rect x="159.5" y="114.94" width="2.49" height="2.49" fill="#783a31"/>
<rect x="161.94" y="114.94" width="2.49" height="2.49" fill="#5b3024"/>
<rect x="164.38" y="114.94" width="2.49" height="2.49" fill="#231d06"/>
<rect x="166.82" y="114.94" width="2.49" height="2.49" fill="#2c200b"/>
<rect x="169.26" y="114.94" width="2.49" height="2.49" fill="#773930"/>
<rect x="137.54" y="117.38" width="2.49" height="2.49" fill="#6f372d"/>
<rect x="142.42" y="117.38" width="2.49" height="2.49" fill="#f0b85e"/>
<rect x="144.86" y="117.38" width="2.49" height="2.49" fill="#fef9bd"/>
<rect x="147.3" y="117.38" width="2.49" height="2.49" fill="#f0ba5e"/>
<rect x="149.74" y="117.38" width="2.49" height="2.49" fill="#da734f"/>
<rect x="152.18" y="117.38" width="2.49" height="2.49" fill="#4e2c1d"/>
<rect x="154.62" y="117.38" width="2.49" height="2.49" fill="#231d06"/>
<rect x="157.06" y="117.38" width="2.49" height="2.49" fill="#7e3b33"/>
<rect x="159.5" y="117.38" width="2.49" height="2.49" fill="#231d06"/>
<rect x="161.94" y="117.38" width="2.49" height="2.49" fill="#f9e28a"/>
<rect x="164.38" y="117.38" width="2.49" height="2.49" fill="#432819"/>
<rect x="166.82" y="117.38" width="2.49" height="2.49" fill="#382512"/>
<rect x="139.98" y="119.82" width="2.49" height="2.49" fill="#ab4b44"/>
<rect x="142.42" y="119.82" width="2.49" height="2.49" fill="#362411"/>
<rect x="144.86" y="119.82" width="2.49" height="2.49" fill="#793a31"/>
<rect x="149.74" y="119.82" width="2.49" height="2.49" fill="#522d20"/>
<rect x="154.62" y="119.82" width="2.49" height="2.49" fill="#eba655"/>
<rect x="157.06" y="119.82" width="2.49" height="2.49" fill="#3b2614"/>
<rect x="159.5" y="119.82" width="2.49" height="2.49" fill="#432819"/>
<rect x="161.94" y="119.82" width="2.49" height="2.49" fill="#402717"/>
<rect x="166.82" y="119.82" width="2.49" height="2.49" fill="#833d35"/>
<rect x="147.3" y="122.26" width="2.49" height="2.49" fill="#f9e28a"/>
<rect x="194.2" y="52.2" width="4.6" height="2.5" fill="#592f23"/>
<rect x="153.6" y="82.8" width="3.6" height="3.4" fill="#69352a"/>
</g>
<use href="#mapbase"/>
<use href="#maplines"/>
<use href="#blob"/>
<path d="M127.9,148.8 L211.3,42.9" stroke="#00ff00" stroke-width="3.1" stroke-dasharray="3.75 2.7" fill="none"/>
</g>
<use href="#mapstatic"/>
<text x="51.2" y="34.6" font-size="9.75" font-weight="bold">1st diffusive migration</text>
<text x="0.3" y="6.9" font-size="9" font-weight="bold">(a)</text>
<text x="32.9" y="22.95" font-size="8.2" text-anchor="end">33°30'N</text>
<text x="32.9" y="146.75" font-size="8.2" text-anchor="end">33°00'N</text>
</g>
<g transform="translate(222.2,0)">
<g clip-path="url(#clipmap)">
<g shape-rendering="crispEdges">
<rect x="117.2" y="115.8" width="2.45" height="2.45" fill="#643328"/>
<rect x="119.6" y="115.8" width="2.45" height="2.45" fill="#74382f"/>
<rect x="122" y="115.8" width="2.45" height="2.45" fill="#643328"/>
<rect x="114.8" y="118.2" width="2.45" height="2.45" fill="#803c34"/>
<rect x="117.2" y="118.2" width="2.45" height="2.45" fill="#9c443e"/>
<rect x="119.6" y="118.2" width="2.45" height="2.45" fill="#9c443e"/>
<rect x="122" y="118.2" width="2.45" height="2.45" fill="#9c443e"/>
<rect x="124.4" y="118.2" width="2.45" height="2.45" fill="#803c34"/>
<rect x="126.8" y="118.2" width="2.45" height="2.45" fill="#803c34"/>
<rect x="112.4" y="120.6" width="2.45" height="2.45" fill="#482a1b"/>
<rect x="114.8" y="120.6" width="2.45" height="2.45" fill="#9c443e"/>
<rect x="117.2" y="120.6" width="2.45" height="2.45" fill="#b65146"/>
<rect x="119.6" y="120.6" width="2.45" height="2.45" fill="#b65146"/>
<rect x="122" y="120.6" width="2.45" height="2.45" fill="#df7d50"/>
<rect x="124.4" y="120.6" width="2.45" height="2.45" fill="#e79453"/>
<rect x="126.8" y="120.6" width="2.45" height="2.45" fill="#9c443e"/>
<rect x="131.6" y="120.6" width="2.45" height="2.45" fill="#803c34"/>
<rect x="114.8" y="123" width="2.45" height="2.45" fill="#643328"/>
<rect x="117.2" y="123" width="2.45" height="2.45" fill="#9c443e"/>
<rect x="119.6" y="123" width="2.45" height="2.45" fill="#cf604c"/>
<rect x="122" y="123" width="2.45" height="2.45" fill="#eba354"/>
<rect x="124.4" y="123" width="2.45" height="2.45" fill="#f2c363"/>
<rect x="126.8" y="123" width="2.45" height="2.45" fill="#db744f"/>
<rect x="131.6" y="123" width="2.45" height="2.45" fill="#9c443e"/>
<rect x="117.2" y="125.4" width="2.45" height="2.45" fill="#803c34"/>
<rect x="119.6" y="125.4" width="2.45" height="2.45" fill="#cf604c"/>
<rect x="122" y="125.4" width="2.45" height="2.45" fill="#e99c54"/>
<rect x="124.4" y="125.4" width="2.45" height="2.45" fill="#eba354"/>
<rect x="126.8" y="125.4" width="2.45" height="2.45" fill="#db744f"/>
<rect x="129.2" y="125.4" width="2.45" height="2.45" fill="#b65146"/>
<rect x="131.6" y="125.4" width="2.45" height="2.45" fill="#9c443e"/>
<rect x="134" y="125.4" width="2.45" height="2.45" fill="#643328"/>
<rect x="117.2" y="127.8" width="2.45" height="2.45" fill="#482a1b"/>
<rect x="119.6" y="127.8" width="2.45" height="2.45" fill="#9c443e"/>
<rect x="122" y="127.8" width="2.45" height="2.45" fill="#db744f"/>
<rect x="124.4" y="127.8" width="2.45" height="2.45" fill="#df7d50"/>
<rect x="126.8" y="127.8" width="2.45" height="2.45" fill="#cf604c"/>
<rect x="129.2" y="127.8" width="2.45" height="2.45" fill="#b65146"/>
<rect x="131.6" y="127.8" width="2.45" height="2.45" fill="#9c443e"/>
<rect x="134" y="127.8" width="2.45" height="2.45" fill="#803c34"/>
<rect x="119.6" y="130.2" width="2.45" height="2.45" fill="#482a1b"/>
<rect x="122" y="130.2" width="2.45" height="2.45" fill="#803c34"/>
<rect x="124.4" y="130.2" width="2.45" height="2.45" fill="#9c443e"/>
<rect x="126.8" y="130.2" width="2.45" height="2.45" fill="#9c443e"/>
<rect x="129.2" y="130.2" width="2.45" height="2.45" fill="#803c34"/>
<rect x="131.6" y="130.2" width="2.45" height="2.45" fill="#643328"/>
<rect x="134" y="130.2" width="2.45" height="2.45" fill="#803c34"/>
<rect x="122" y="132.6" width="2.45" height="2.45" fill="#30220e"/>
<rect x="124.4" y="132.6" width="2.45" height="2.45" fill="#482a1b"/>
<rect x="126.8" y="132.6" width="2.45" height="2.45" fill="#482a1b"/>
<rect x="129.2" y="132.6" width="2.45" height="2.45" fill="#482a1b"/>
<rect x="131.6" y="132.6" width="2.45" height="2.45" fill="#482a1b"/>
<rect x="134" y="132.6" width="2.45" height="2.45" fill="#30220e"/>
</g>
<use href="#mapbase"/>
<use href="#maplines"/>
<use href="#blob"/>
<path d="M127.9,148.8 L211.3,42.9" stroke="#00ff00" stroke-width="3.1" stroke-dasharray="3.75 2.7" fill="none"/>
</g>
<use href="#mapstatic"/>
<text x="51.2" y="34.6" font-size="9.75" font-weight="bold">2nd diffusive migration</text>
<text x="39.4" y="6.9" font-size="9" font-weight="bold">(b)</text>
</g>
<g id="panelc">
<g stroke="#cfcfcf" stroke-width="0.5" fill="none">
<path d="M539,100.2 h26 M538.6,120 h8 M523.2,178.2 h10.8 M523.2,186.9 h9.5 M531.6,186.9 h10 M523.2,195.5 h7.8 M523.2,200.5 h11.3 M555,187.3 h8 M562.1,184.3 h10 M565.7,174.7 h6 M552.2,196 h16 M646,40.7 h22 M650.5,27.3 h6 M653.3,29.2 h6 M658.2,26.1 h8 M602,127.7 h12 M598,166.7 h40 M646,166.5 h24 M596,161.5 h48 M557,156 h36 M533.3,150 h12 M538.4,156 h20 M525,148.4 h8 M577,169.5 h10 M586,167.5 h16 M550,133 h44 M551,129 h28 M554,137 h24 "/>
</g>
<g stroke="#dcd0d0" stroke-width="0.5" fill="none">
<path d="M591.02,76.19 h5.82 M587.66,99.54 h13.84 M562.69,110.77 h5.27 M581.85,95.55 h13.98 M572.48,100.41 h5.63 M589.45,70.43 h13.19 M589.37,83.75 h7.99 M596.99,96.9 h7.22 M563.83,117.32 h7.43 M594.38,98.5 h12.96 M572.92,102.43 h5.81 M589.07,81.48 h11.65 M566.09,122.99 h12.41 M580.52,91.49 h11.48 M589.62,94.79 h13.26 M566.45,97.07 h9.01 M587.3,99.57 h5.32 M584.98,114.34 h10.73 M574.81,113.52 h13.99 M574.3,119.49 h11.75 M567.43,94.44 h11.1 M571.31,117.31 h8.88 M574.88,111.51 h6.23 M587.48,113.45 h6.52 M576.21,96.56 h8.73 M581.13,98.37 h12.55 M598.66,84.11 h5.28 M566.93,100.49 h10.66 M568.23,115.63 h5.1 M577.69,113.26 h7.45 M587.19,108.71 h13.39 M591.89,84.03 h8.97 M594.76,87.65 h6.72 M581.09,115.92 h12.01 M558.3,112.67 h11.18 M564.4,120.62 h6.78 M575.7,108.21 h6.84 M590.69,107.88 h7.83 M591.84,74.36 h11.54 M575.13,118.3 h8.63 M584.15,77.12 h11.14 M592.21,100.75 h9.55 M569.76,104.34 h5.34 M564.7,108.81 h12.56 M596.89,97.58 h5.56 M574.97,107.93 h11.31 M587.89,92.8 h6.49 M585.96,85.3 h9.22 M586.63,105.87 h10.54 M566.71,115.16 h9.46 M573.37,98.63 h5.38 M638.49,60.56 h13.9 M634.96,58.79 h10.62 M612.29,60.8 h9.75 M643.83,62.91 h5.55 M591.67,81.99 h5.78 M607.84,67.95 h8.09 M632.63,64.74 h6.08 M595.5,73.88 h12.29 M591.34,88.62 h5.75 M603.67,76.24 h6.92 M624.61,53.93 h11.52 M628.3,55.96 h8.22 M628.77,56.59 h11.38 M643.69,63.02 h8.26 M639.56,52.64 h9.64 M624.72,66.01 h9.92 M632.62,51.35 h11.63 M648.01,52.9 h6.84 M586.37,80.74 h10.83 M633.1,52.78 h9.13 M622.39,69.6 h5.98 M594.08,72.17 h11.46 M622.3,57.19 h7.53 M594.07,82 h9.93 M633.8,56.58 h12.99 M646.53,55.06 h5.45 M614.81,63.74 h13.91 M625.46,56.04 h9.25 M622.84,56.01 h7.9 M623.86,70.09 h9.81 M591.45,83.39 h12.39 M638.44,62.55 h7.43 M608.47,74.51 h12.44 M594.18,84.23 h7.8 M597.04,77.57 h8.38 M618.28,59.82 h8.53 M624.88,56.13 h11.58 M588.36,76.36 h11.1 M638.04,58.32 h7.04 M636.2,54.94 h8.71 M622.91,54.43 h8.08 M621.48,71.74 h7.2 M616.38,80.62 h13.36 M607.57,80.76 h13.76 M615.84,78.7 h13.18 M598.37,92.27 h13.07 M604.78,86.32 h5.29 M627.55,66.4 h9.21 M601.89,86.15 h10.11 M551.47,121.72 h11.04 M557,91.4 h18 M559,97.3 h16 M545.4,117.7 h12 M633,95.3 h24 M652,95.3 h25.5 M624,95.5 h20 M610,106.4 h20 M604.6,113 h16 M592.2,67 h10 M656,68.8 h16 M613,88.2 h36 M630,82.1 h16 M645,56.5 h20 "/>
</g>
<g fill="#dcdcdc"><circle cx="526" cy="167.4" r="0.8"/><circle cx="526" cy="211" r="0.8"/><circle cx="534" cy="215" r="0.8"/><circle cx="528" cy="96" r="0.8"/><circle cx="531" cy="131" r="0.8"/></g>
<g fill="#4e4e4e"><circle cx="542.6" cy="120" r="0.92"/><circle cx="559.17" cy="127.07" r="0.92"/><circle cx="567.87" cy="128.67" r="0.92"/><circle cx="564.31" cy="125.78" r="0.92"/><circle cx="557.01" cy="129.64" r="0.92"/><circle cx="556.87" cy="126.69" r="0.92"/><circle cx="556.67" cy="125.77" r="0.92"/><circle cx="562.53" cy="132.52" r="0.92"/><circle cx="569.07" cy="131.22" r="0.92"/><circle cx="565.71" cy="126.47" r="0.92"/><circle cx="560.54" cy="129.32" r="0.92"/><circle cx="569.82" cy="125.81" r="0.92"/><circle cx="569.36" cy="129.56" r="0.92"/><circle cx="562.03" cy="131.11" r="0.92"/><circle cx="557.71" cy="128.96" r="0.92"/><circle cx="556.42" cy="127.51" r="0.92"/><circle cx="561.1" cy="128.76" r="0.92"/><circle cx="569.89" cy="132.26" r="0.92"/><circle cx="560.67" cy="131.71" r="0.92"/><circle cx="560.59" cy="130.99" r="0.92"/><circle cx="564.22" cy="126.44" r="0.92"/><circle cx="562.19" cy="125.39" r="0.92"/><circle cx="566.42" cy="129.81" r="0.92"/><circle cx="565.14" cy="128.68" r="0.92"/><circle cx="557.44" cy="129.6" r="0.92"/><circle cx="558.69" cy="131.3" r="0.92"/><circle cx="566.62" cy="129.36" r="0.92"/><circle cx="568.88" cy="131.74" r="0.92"/><circle cx="570.37" cy="131.44" r="0.92"/><circle cx="561.4" cy="126.6" r="0.92"/><circle cx="566.08" cy="130.86" r="0.92"/><circle cx="565.49" cy="126.56" r="0.92"/><circle cx="558.13" cy="131.61" r="0.92"/><circle cx="569.59" cy="130.97" r="0.92"/><circle cx="566.87" cy="129.3" r="0.92"/><circle cx="569.65" cy="125.42" r="0.92"/><circle cx="566.91" cy="130.33" r="0.92"/><circle cx="568.65" cy="129.69" r="0.92"/><circle cx="557.88" cy="130.59" r="0.92"/><circle cx="560.32" cy="126.52" r="0.92"/><circle cx="558.99" cy="128.32" r="0.92"/><circle cx="562.01" cy="136.98" r="0.92"/><circle cx="566" cy="136.77" r="0.92"/><circle cx="565.96" cy="139.08" r="0.92"/><circle cx="565.45" cy="139.31" r="0.92"/><circle cx="565.46" cy="138.47" r="0.92"/><circle cx="561.52" cy="136.5" r="0.92"/><circle cx="564.41" cy="138.76" r="0.92"/><circle cx="564.87" cy="139.16" r="0.92"/><circle cx="570.04" cy="135.48" r="0.92"/><circle cx="559.47" cy="135" r="0.92"/><circle cx="565.73" cy="136.49" r="0.92"/><circle cx="562.42" cy="135.74" r="0.92"/><circle cx="559.82" cy="138.7" r="0.92"/><circle cx="567.68" cy="135.53" r="0.92"/><circle cx="565.71" cy="138.75" r="0.92"/><circle cx="563.74" cy="135.57" r="0.92"/><circle cx="568.83" cy="138.56" r="0.92"/><circle cx="563.56" cy="137.62" r="0.92"/><circle cx="564.81" cy="138.66" r="0.92"/><circle cx="569.93" cy="138.09" r="0.92"/><circle cx="578.83" cy="126.89" r="0.92"/><circle cx="577.99" cy="129.73" r="0.92"/><circle cx="579.3" cy="129.39" r="0.92"/><circle cx="578.89" cy="129.46" r="0.92"/><circle cx="578.67" cy="129.43" r="0.92"/><circle cx="579.38" cy="126.58" r="0.92"/><circle cx="579.79" cy="126.91" r="0.92"/><circle cx="582" cy="125" r="0.92"/><circle cx="584.5" cy="130" r="0.92"/><circle cx="574" cy="137" r="0.92"/><circle cx="579" cy="137.4" r="0.92"/><circle cx="584" cy="138" r="0.92"/><circle cx="574" cy="141.4" r="0.92"/><circle cx="586.5" cy="127" r="0.92"/><circle cx="589" cy="133" r="0.92"/><circle cx="571.89" cy="156.31" r="0.92"/><circle cx="562.42" cy="156.25" r="0.92"/><circle cx="581.6" cy="155.83" r="0.92"/><circle cx="579.96" cy="156.65" r="0.92"/><circle cx="564.56" cy="156.31" r="0.92"/><circle cx="566.37" cy="155.71" r="0.92"/><circle cx="566.96" cy="156.03" r="0.92"/><circle cx="565.11" cy="156.16" r="0.92"/><circle cx="581.15" cy="155.83" r="0.92"/><circle cx="569.98" cy="156.69" r="0.92"/><circle cx="554.5" cy="145.4" r="0.92"/><circle cx="539.3" cy="150" r="0.92"/><circle cx="529" cy="148.4" r="0.92"/><circle cx="526" cy="152" r="0.92"/><circle cx="524.5" cy="155" r="0.92"/><circle cx="548.4" cy="156" r="0.92"/><circle cx="525" cy="178.2" r="0.92"/><circle cx="527.7" cy="186.9" r="0.92"/><circle cx="536.6" cy="186.9" r="0.92"/><circle cx="525" cy="195.5" r="0.92"/><circle cx="524.5" cy="200.5" r="0.92"/><circle cx="559" cy="187.3" r="0.92"/><circle cx="567.1" cy="184.3" r="0.92"/><circle cx="568.7" cy="174.7" r="0.92"/><circle cx="560.2" cy="196" r="0.92"/><circle cx="538.5" cy="123.3" r="0.92"/><circle cx="543" cy="119.8" r="0.92"/><circle cx="532.8" cy="143.6" r="0.92"/><circle cx="653.5" cy="27.3" r="0.92"/><circle cx="656.3" cy="29.2" r="0.92"/><circle cx="662.2" cy="26.1" r="0.92"/><circle cx="654.6" cy="40.7" r="0.92"/><circle cx="658.4" cy="40.7" r="0.92"/><circle cx="662.2" cy="40.7" r="0.92"/><circle cx="608" cy="127.7" r="0.92"/><circle cx="604" cy="127.2" r="0.92"/><circle cx="590" cy="126.5" r="0.92"/><circle cx="593" cy="128.5" r="0.92"/><circle cx="626.33" cy="162.09" r="0.92"/><circle cx="638.41" cy="163.21" r="0.92"/><circle cx="621.07" cy="163.01" r="0.92"/><circle cx="612.55" cy="161.67" r="0.92"/><circle cx="627.92" cy="163.57" r="0.92"/><circle cx="619.31" cy="162.3" r="0.92"/><circle cx="637.12" cy="163.48" r="0.92"/><circle cx="624.94" cy="161.51" r="0.92"/><circle cx="617.18" cy="162.55" r="0.92"/><circle cx="623.85" cy="163.47" r="0.92"/><circle cx="592.67" cy="158.21" r="0.92"/><circle cx="637.55" cy="165.29" r="0.92"/><circle cx="617.84" cy="161.29" r="0.92"/><circle cx="616.35" cy="161.99" r="0.92"/><circle cx="614.79" cy="160.04" r="0.92"/><circle cx="618.59" cy="161.64" r="0.92"/><circle cx="613.07" cy="160.2" r="0.92"/><circle cx="631.19" cy="164.36" r="0.92"/><circle cx="638.02" cy="163.41" r="0.92"/><circle cx="600.72" cy="158.16" r="0.92"/><circle cx="626.33" cy="161.72" r="0.92"/><circle cx="613.03" cy="160.28" r="0.92"/><circle cx="593.8" cy="158.73" r="0.92"/><circle cx="625.12" cy="163.09" r="0.92"/><circle cx="603.18" cy="160.08" r="0.92"/><circle cx="605.29" cy="160.11" r="0.92"/><circle cx="631.87" cy="162.4" r="0.92"/><circle cx="625.5" cy="161.99" r="0.92"/><circle cx="627.15" cy="162.46" r="0.92"/><circle cx="595.45" cy="159.12" r="0.92"/><circle cx="617.18" cy="161.78" r="0.92"/><circle cx="606.35" cy="160.13" r="0.92"/><circle cx="639.19" cy="164.23" r="0.92"/><circle cx="615.86" cy="162.27" r="0.92"/><circle cx="627.01" cy="162.16" r="0.92"/><circle cx="622.24" cy="161.34" r="0.92"/><circle cx="631.51" cy="164.03" r="0.92"/><circle cx="629.12" cy="163.56" r="0.92"/><circle cx="609.99" cy="160.49" r="0.92"/><circle cx="600.21" cy="160.31" r="0.92"/><circle cx="603.27" cy="159.23" r="0.92"/><circle cx="605.64" cy="160.44" r="0.92"/><circle cx="606.17" cy="159.3" r="0.92"/><circle cx="603.11" cy="158.93" r="0.92"/><circle cx="615.85" cy="160.31" r="0.92"/><circle cx="614.99" cy="162.03" r="0.92"/><circle cx="607.78" cy="161.37" r="0.92"/><circle cx="613.59" cy="160.25" r="0.92"/><circle cx="615.64" cy="160.79" r="0.92"/><circle cx="610.96" cy="159.91" r="0.92"/><circle cx="611.98" cy="160.29" r="0.92"/><circle cx="612.8" cy="162.1" r="0.92"/><circle cx="604.22" cy="160.68" r="0.92"/><circle cx="609.3" cy="159.28" r="0.92"/><circle cx="613.43" cy="160.79" r="0.92"/><circle cx="602.49" cy="160.18" r="0.92"/><circle cx="611.18" cy="160.82" r="0.92"/><circle cx="607.19" cy="159.81" r="0.92"/><circle cx="611.89" cy="161.3" r="0.92"/><circle cx="613.85" cy="160.45" r="0.92"/><circle cx="612.88" cy="160.29" r="0.92"/><circle cx="603.52" cy="160.74" r="0.92"/><circle cx="621.46" cy="167.14" r="0.92"/><circle cx="630.03" cy="167.42" r="0.92"/><circle cx="621.66" cy="166.34" r="0.92"/><circle cx="617.34" cy="167.3" r="0.92"/><circle cx="621.91" cy="166.54" r="0.92"/><circle cx="628.26" cy="166.9" r="0.92"/><circle cx="629.55" cy="167.03" r="0.92"/><circle cx="620.42" cy="167.42" r="0.92"/><circle cx="617.07" cy="167.08" r="0.92"/><circle cx="620.74" cy="166.53" r="0.92"/><circle cx="621.37" cy="167.01" r="0.92"/><circle cx="621.92" cy="167.28" r="0.92"/><circle cx="622.13" cy="166.55" r="0.92"/><circle cx="621.96" cy="167.42" r="0.92"/><circle cx="622.49" cy="167.29" r="0.92"/><circle cx="630.13" cy="166.63" r="0.92"/><circle cx="592.4" cy="166.9" r="0.92"/><circle cx="593.3" cy="166.5" r="0.92"/><circle cx="596" cy="168.6" r="0.92"/><circle cx="606.4" cy="167" r="0.92"/><circle cx="640.2" cy="166.9" r="0.92"/><circle cx="654.86" cy="165.88" r="0.92"/><circle cx="656.84" cy="166.1" r="0.92"/><circle cx="657.93" cy="165.7" r="0.92"/><circle cx="659.47" cy="166.46" r="0.92"/><circle cx="663.45" cy="165.93" r="0.92"/><circle cx="652.99" cy="165.73" r="0.92"/><circle cx="654.07" cy="165.66" r="0.92"/><circle cx="663.45" cy="166.94" r="0.92"/><circle cx="654.26" cy="165.67" r="0.92"/><circle cx="562.6" cy="148.5" r="0.92"/><circle cx="564.4" cy="148.8" r="0.92"/><circle cx="567.9" cy="149" r="0.92"/><circle cx="570.5" cy="149.3" r="0.92"/><circle cx="573.1" cy="149.6" r="0.92"/><circle cx="578.9" cy="148.7" r="0.92"/><circle cx="569.6" cy="161.5" r="0.92"/><circle cx="573" cy="161" r="0.92"/><circle cx="575" cy="162.3" r="0.92"/><circle cx="578.4" cy="161" r="0.92"/><circle cx="579.3" cy="162.5" r="0.92"/><circle cx="582.8" cy="160.5" r="0.92"/><circle cx="567.9" cy="166" r="0.92"/><circle cx="569.6" cy="167" r="0.92"/><circle cx="571.4" cy="168" r="0.92"/><circle cx="572.3" cy="166.5" r="0.92"/><circle cx="581.9" cy="169.5" r="0.92"/><circle cx="584" cy="157" r="0.92"/><circle cx="584.8" cy="158.8" r="0.92"/></g>
<g fill="#ff8c00"><circle cx="541.71" cy="139.76" r="1.0"/><circle cx="532.69" cy="138.93" r="1.0"/><circle cx="538.27" cy="134.28" r="1.0"/><circle cx="549.03" cy="138.95" r="1.0"/><circle cx="535.21" cy="138.07" r="1.0"/><circle cx="533.52" cy="136.39" r="1.0"/><circle cx="537.45" cy="139" r="1.0"/><circle cx="548.02" cy="136.2" r="1.0"/><circle cx="537.34" cy="136.16" r="1.0"/><circle cx="544.08" cy="138.77" r="1.0"/><circle cx="541.54" cy="133.46" r="1.0"/><circle cx="534.92" cy="133.84" r="1.0"/><circle cx="543.75" cy="130.89" r="1.0"/><circle cx="535.97" cy="132.11" r="1.0"/><circle cx="546.19" cy="137.3" r="1.0"/><circle cx="540.79" cy="128.82" r="1.0"/><circle cx="545.08" cy="134.09" r="1.0"/><circle cx="541.82" cy="137.37" r="1.0"/><circle cx="539.3" cy="130.97" r="1.0"/><circle cx="535.61" cy="140.06" r="1.0"/><circle cx="545.96" cy="140.29" r="1.0"/><circle cx="539.49" cy="136.1" r="1.0"/><circle cx="543.85" cy="136.02" r="1.0"/><circle cx="539.23" cy="139.99" r="1.0"/><circle cx="541.38" cy="131.33" r="1.0"/><circle cx="539.9" cy="138.09" r="1.0"/><circle cx="550.31" cy="137.22" r="1.0"/><circle cx="537.37" cy="130.42" r="1.0"/><circle cx="538.7" cy="128.86" r="1.0"/><circle cx="547.34" cy="134.25" r="1.0"/><circle cx="530.9" cy="142.6" r="1.0"/></g>
<g fill="#ff0000"><circle cx="580.64" cy="107.87" r="1.08"/><circle cx="581.16" cy="105.27" r="1.08"/><circle cx="570.2" cy="117.79" r="1.08"/><circle cx="593.93" cy="76.19" r="1.08"/><circle cx="594.58" cy="99.54" r="1.08"/><circle cx="600.63" cy="92.71" r="1.08"/><circle cx="569.14" cy="99.18" r="1.08"/><circle cx="565.32" cy="110.77" r="1.08"/><circle cx="581.09" cy="102.64" r="1.08"/><circle cx="583.25" cy="108.44" r="1.08"/><circle cx="588.84" cy="95.55" r="1.08"/><circle cx="601.83" cy="99.18" r="1.08"/><circle cx="575.3" cy="100.41" r="1.08"/><circle cx="592.89" cy="89.43" r="1.08"/><circle cx="596.05" cy="70.43" r="1.08"/><circle cx="578.5" cy="90.59" r="1.08"/><circle cx="593.36" cy="83.75" r="1.08"/><circle cx="600.6" cy="96.9" r="1.08"/><circle cx="566.94" cy="103.61" r="1.08"/><circle cx="569.93" cy="120.01" r="1.08"/><circle cx="567.54" cy="117.32" r="1.08"/><circle cx="600.87" cy="98.5" r="1.08"/><circle cx="571.22" cy="111.87" r="1.08"/><circle cx="588.03" cy="82.03" r="1.08"/><circle cx="571.32" cy="106.31" r="1.08"/><circle cx="575.83" cy="102.43" r="1.08"/><circle cx="585.73" cy="90.02" r="1.08"/><circle cx="577.5" cy="106.82" r="1.08"/><circle cx="581.87" cy="107.22" r="1.08"/><circle cx="570.13" cy="103.56" r="1.08"/><circle cx="594.89" cy="81.48" r="1.08"/><circle cx="599.68" cy="75.19" r="1.08"/><circle cx="597.41" cy="93.31" r="1.08"/><circle cx="567.05" cy="102.63" r="1.08"/><circle cx="572.3" cy="122.99" r="1.08"/><circle cx="586.26" cy="91.49" r="1.08"/><circle cx="565.68" cy="111.87" r="1.08"/><circle cx="596.24" cy="94.79" r="1.08"/><circle cx="570.96" cy="97.07" r="1.08"/><circle cx="565.36" cy="110.17" r="1.08"/><circle cx="585.31" cy="85.98" r="1.08"/><circle cx="597.75" cy="108.11" r="1.08"/><circle cx="589.96" cy="99.57" r="1.08"/><circle cx="590.34" cy="114.34" r="1.08"/><circle cx="581.81" cy="113.52" r="1.08"/><circle cx="591.74" cy="110.5" r="1.08"/><circle cx="590.44" cy="107.46" r="1.08"/><circle cx="576.72" cy="116.92" r="1.08"/><circle cx="596.97" cy="86.21" r="1.08"/><circle cx="596.68" cy="92.72" r="1.08"/><circle cx="577.91" cy="111.58" r="1.08"/><circle cx="601.74" cy="100.84" r="1.08"/><circle cx="578.15" cy="117.43" r="1.08"/><circle cx="580.18" cy="119.49" r="1.08"/><circle cx="581.76" cy="93.56" r="1.08"/><circle cx="582.39" cy="108.28" r="1.08"/><circle cx="572.98" cy="94.44" r="1.08"/><circle cx="570.9" cy="103.26" r="1.08"/><circle cx="588.74" cy="95.02" r="1.08"/><circle cx="575.75" cy="117.31" r="1.08"/><circle cx="594.43" cy="108.51" r="1.08"/><circle cx="577.99" cy="111.51" r="1.08"/><circle cx="582.36" cy="117.21" r="1.08"/><circle cx="590.74" cy="113.45" r="1.08"/><circle cx="580.58" cy="96.56" r="1.08"/><circle cx="587.4" cy="98.37" r="1.08"/><circle cx="601.3" cy="84.11" r="1.08"/><circle cx="597.04" cy="71.13" r="1.08"/><circle cx="585.25" cy="93.14" r="1.08"/><circle cx="563.75" cy="110.51" r="1.08"/><circle cx="572.26" cy="100.49" r="1.08"/><circle cx="580.41" cy="110.92" r="1.08"/><circle cx="594.49" cy="110.22" r="1.08"/><circle cx="570.77" cy="115.63" r="1.08"/><circle cx="581.42" cy="113.26" r="1.08"/><circle cx="576.48" cy="117.69" r="1.08"/><circle cx="586.96" cy="109.29" r="1.08"/><circle cx="593.89" cy="108.71" r="1.08"/><circle cx="591.17" cy="80.23" r="1.08"/><circle cx="587.4" cy="115.02" r="1.08"/><circle cx="585.18" cy="116.03" r="1.08"/><circle cx="599.83" cy="85.75" r="1.08"/><circle cx="594.92" cy="97.14" r="1.08"/><circle cx="601.24" cy="105.15" r="1.08"/><circle cx="593.84" cy="85.32" r="1.08"/><circle cx="596.38" cy="84.03" r="1.08"/><circle cx="584.46" cy="112.32" r="1.08"/><circle cx="569.74" cy="111.26" r="1.08"/><circle cx="568.48" cy="105.32" r="1.08"/><circle cx="591.22" cy="108.59" r="1.08"/><circle cx="599.88" cy="86.86" r="1.08"/><circle cx="566.35" cy="110.77" r="1.08"/><circle cx="574.32" cy="121.54" r="1.08"/><circle cx="583.39" cy="116.43" r="1.08"/><circle cx="575.16" cy="106.63" r="1.08"/><circle cx="598.12" cy="76.92" r="1.08"/><circle cx="600.77" cy="87.41" r="1.08"/><circle cx="570.84" cy="117.99" r="1.08"/><circle cx="586.6" cy="80.51" r="1.08"/><circle cx="583.12" cy="98.98" r="1.08"/><circle cx="584.95" cy="100.73" r="1.08"/><circle cx="599.01" cy="78.63" r="1.08"/><circle cx="567.95" cy="117.35" r="1.08"/><circle cx="598.12" cy="87.65" r="1.08"/><circle cx="587.1" cy="115.92" r="1.08"/><circle cx="563.89" cy="112.67" r="1.08"/><circle cx="575.56" cy="105.12" r="1.08"/><circle cx="567.79" cy="120.62" r="1.08"/><circle cx="583.68" cy="99.85" r="1.08"/><circle cx="579.12" cy="108.21" r="1.08"/><circle cx="587.62" cy="103.95" r="1.08"/><circle cx="596.2" cy="94.73" r="1.08"/><circle cx="594.61" cy="107.88" r="1.08"/><circle cx="598.99" cy="76.61" r="1.08"/><circle cx="597.61" cy="74.36" r="1.08"/><circle cx="573.12" cy="97.7" r="1.08"/><circle cx="579.44" cy="118.3" r="1.08"/><circle cx="589.72" cy="77.12" r="1.08"/><circle cx="596.99" cy="100.75" r="1.08"/><circle cx="591.78" cy="94.53" r="1.08"/><circle cx="572.43" cy="104.34" r="1.08"/><circle cx="584.76" cy="101.64" r="1.08"/><circle cx="570.98" cy="108.81" r="1.08"/><circle cx="599.67" cy="97.58" r="1.08"/><circle cx="598.35" cy="87.49" r="1.08"/><circle cx="577.11" cy="108.29" r="1.08"/><circle cx="580.62" cy="107.93" r="1.08"/><circle cx="594.7" cy="84.03" r="1.08"/><circle cx="591.14" cy="92.8" r="1.08"/><circle cx="583.43" cy="91.01" r="1.08"/><circle cx="593.26" cy="97.97" r="1.08"/><circle cx="587.4" cy="96.33" r="1.08"/><circle cx="583.15" cy="114.51" r="1.08"/><circle cx="574.78" cy="121.71" r="1.08"/><circle cx="592.45" cy="101.37" r="1.08"/><circle cx="596.48" cy="99.11" r="1.08"/><circle cx="592.09" cy="100.53" r="1.08"/><circle cx="590.57" cy="85.3" r="1.08"/><circle cx="566.36" cy="118.45" r="1.08"/><circle cx="587.22" cy="92.36" r="1.08"/><circle cx="588.65" cy="93.54" r="1.08"/><circle cx="585.37" cy="101.46" r="1.08"/><circle cx="600" cy="90.48" r="1.08"/><circle cx="591.9" cy="105.87" r="1.08"/><circle cx="591.12" cy="89.25" r="1.08"/><circle cx="567.72" cy="112.98" r="1.08"/><circle cx="569.35" cy="112.35" r="1.08"/><circle cx="584.7" cy="101.53" r="1.08"/><circle cx="585.31" cy="112.6" r="1.08"/><circle cx="593.52" cy="82.63" r="1.08"/><circle cx="591.81" cy="83.51" r="1.08"/><circle cx="571.44" cy="115.16" r="1.08"/><circle cx="586.78" cy="88.63" r="1.08"/><circle cx="580.3" cy="106.47" r="1.08"/><circle cx="578.43" cy="102.6" r="1.08"/><circle cx="585.06" cy="95.78" r="1.08"/><circle cx="576.07" cy="98.63" r="1.08"/><circle cx="571.32" cy="122.08" r="1.08"/><circle cx="645.44" cy="60.56" r="1.08"/><circle cx="648.45" cy="49.19" r="1.08"/><circle cx="615.49" cy="65.82" r="1.08"/><circle cx="603.6" cy="73.98" r="1.08"/><circle cx="634.26" cy="58.35" r="1.08"/><circle cx="640.27" cy="58.79" r="1.08"/><circle cx="617.16" cy="60.8" r="1.08"/><circle cx="595.96" cy="78.95" r="1.08"/><circle cx="617.16" cy="61.64" r="1.08"/><circle cx="614.85" cy="71.66" r="1.08"/><circle cx="651.85" cy="63.51" r="1.08"/><circle cx="603.26" cy="68.01" r="1.08"/><circle cx="638.2" cy="59.85" r="1.08"/><circle cx="605.38" cy="75.56" r="1.08"/><circle cx="625.87" cy="64.05" r="1.08"/><circle cx="600.15" cy="72.34" r="1.08"/><circle cx="646.61" cy="62.91" r="1.08"/><circle cx="605.34" cy="70.96" r="1.08"/><circle cx="594.56" cy="81.99" r="1.08"/><circle cx="631.28" cy="60.74" r="1.08"/><circle cx="611.88" cy="67.95" r="1.08"/><circle cx="635.67" cy="64.74" r="1.08"/><circle cx="639.79" cy="59.31" r="1.08"/><circle cx="601.64" cy="73.88" r="1.08"/><circle cx="611.61" cy="71.24" r="1.08"/><circle cx="608.82" cy="71" r="1.08"/><circle cx="646.93" cy="54.52" r="1.08"/><circle cx="594.21" cy="88.62" r="1.08"/><circle cx="624.11" cy="62.18" r="1.08"/><circle cx="607.13" cy="76.24" r="1.08"/><circle cx="630.37" cy="53.93" r="1.08"/><circle cx="632.41" cy="55.96" r="1.08"/><circle cx="634.46" cy="56.59" r="1.08"/><circle cx="624.43" cy="70.2" r="1.08"/><circle cx="646.46" cy="54.78" r="1.08"/><circle cx="607.5" cy="67.94" r="1.08"/><circle cx="647.82" cy="63.02" r="1.08"/><circle cx="611.4" cy="66.33" r="1.08"/><circle cx="612.81" cy="62.97" r="1.08"/><circle cx="639.01" cy="58.06" r="1.08"/><circle cx="624.02" cy="57.43" r="1.08"/><circle cx="644.38" cy="52.64" r="1.08"/><circle cx="622.83" cy="64.19" r="1.08"/><circle cx="629.68" cy="66.01" r="1.08"/><circle cx="638.44" cy="51.35" r="1.08"/><circle cx="645.54" cy="49.81" r="1.08"/><circle cx="597.21" cy="83.27" r="1.08"/><circle cx="603.71" cy="69.04" r="1.08"/><circle cx="621.38" cy="68.5" r="1.08"/><circle cx="609.62" cy="78.59" r="1.08"/><circle cx="619.59" cy="65.07" r="1.08"/><circle cx="633.32" cy="67.02" r="1.08"/><circle cx="640.88" cy="59.79" r="1.08"/><circle cx="639.58" cy="63.38" r="1.08"/><circle cx="649.3" cy="57.86" r="1.08"/><circle cx="633.45" cy="64.75" r="1.08"/><circle cx="614.91" cy="61.07" r="1.08"/><circle cx="651.42" cy="52.9" r="1.08"/><circle cx="615.2" cy="62.94" r="1.08"/><circle cx="591.79" cy="80.74" r="1.08"/><circle cx="637.66" cy="52.78" r="1.08"/><circle cx="625.38" cy="69.6" r="1.08"/><circle cx="599.81" cy="72.17" r="1.08"/><circle cx="626.07" cy="57.19" r="1.08"/><circle cx="599.04" cy="82" r="1.08"/><circle cx="640.3" cy="56.58" r="1.08"/><circle cx="646.51" cy="53.21" r="1.08"/><circle cx="649.25" cy="55.06" r="1.08"/><circle cx="648.64" cy="61.04" r="1.08"/><circle cx="621.77" cy="63.74" r="1.08"/><circle cx="630.08" cy="56.04" r="1.08"/><circle cx="611.78" cy="73.87" r="1.08"/><circle cx="626.79" cy="56.01" r="1.08"/><circle cx="604.6" cy="79.67" r="1.08"/><circle cx="628.77" cy="70.09" r="1.08"/><circle cx="597.64" cy="83.39" r="1.08"/><circle cx="642.16" cy="62.55" r="1.08"/><circle cx="633.86" cy="52.98" r="1.08"/><circle cx="617.99" cy="73.76" r="1.08"/><circle cx="642.87" cy="53.23" r="1.08"/><circle cx="614.69" cy="74.51" r="1.08"/><circle cx="601.34" cy="76.17" r="1.08"/><circle cx="598.08" cy="84.23" r="1.08"/><circle cx="592.87" cy="79.68" r="1.08"/><circle cx="633.77" cy="56.71" r="1.08"/><circle cx="594.77" cy="79.27" r="1.08"/><circle cx="649.88" cy="61.38" r="1.08"/><circle cx="588.79" cy="84.68" r="1.08"/><circle cx="603.2" cy="75.03" r="1.08"/><circle cx="588.67" cy="96.24" r="1.08"/><circle cx="601.23" cy="77.57" r="1.08"/><circle cx="622.55" cy="59.82" r="1.08"/><circle cx="630.67" cy="56.13" r="1.08"/><circle cx="609.08" cy="78.43" r="1.08"/><circle cx="634.32" cy="56.09" r="1.08"/><circle cx="593.91" cy="76.36" r="1.08"/><circle cx="633.33" cy="54.19" r="1.08"/><circle cx="641.56" cy="58.32" r="1.08"/><circle cx="598.05" cy="72.36" r="1.08"/><circle cx="592.65" cy="91.01" r="1.08"/><circle cx="620.74" cy="66.56" r="1.08"/><circle cx="640.55" cy="54.94" r="1.08"/><circle cx="588.99" cy="84.87" r="1.08"/><circle cx="650.84" cy="60.43" r="1.08"/><circle cx="626.95" cy="54.43" r="1.08"/><circle cx="626.03" cy="69.86" r="1.08"/><circle cx="620.37" cy="83.25" r="1.08"/><circle cx="624.46" cy="71.38" r="1.08"/><circle cx="636.12" cy="73.62" r="1.08"/><circle cx="620.02" cy="73.06" r="1.08"/><circle cx="639.47" cy="72.02" r="1.08"/><circle cx="633.42" cy="68.88" r="1.08"/><circle cx="625.08" cy="71.74" r="1.08"/><circle cx="623.06" cy="80.62" r="1.08"/><circle cx="614.45" cy="80.76" r="1.08"/><circle cx="605.42" cy="93.21" r="1.08"/><circle cx="622.43" cy="78.7" r="1.08"/><circle cx="639.69" cy="76.78" r="1.08"/><circle cx="604.91" cy="92.27" r="1.08"/><circle cx="609.63" cy="85.41" r="1.08"/><circle cx="607.42" cy="86.32" r="1.08"/><circle cx="607.2" cy="93.47" r="1.08"/><circle cx="626.33" cy="72.95" r="1.08"/><circle cx="629.51" cy="73.1" r="1.08"/><circle cx="632.15" cy="66.4" r="1.08"/><circle cx="605.72" cy="84.75" r="1.08"/><circle cx="606.95" cy="86.15" r="1.08"/><circle cx="556.99" cy="121.72" r="1.08"/><circle cx="559.4" cy="117.62" r="1.08"/><circle cx="559.61" cy="118.9" r="1.08"/><circle cx="560.77" cy="116.08" r="1.08"/><circle cx="561.54" cy="117.72" r="1.08"/><circle cx="570.77" cy="91.64" r="1.08"/><circle cx="578.46" cy="91.49" r="1.08"/><circle cx="572.26" cy="91.16" r="1.08"/><circle cx="578.44" cy="90.75" r="1.08"/><circle cx="564.59" cy="92.21" r="1.08"/><circle cx="578.37" cy="92.24" r="1.08"/><circle cx="573.44" cy="92.31" r="1.08"/><circle cx="568.67" cy="91.74" r="1.08"/><circle cx="564.84" cy="90.05" r="1.08"/><circle cx="570.99" cy="91.41" r="1.08"/><circle cx="570.17" cy="89.79" r="1.08"/><circle cx="575.03" cy="91.49" r="1.08"/><circle cx="567.6" cy="90.7" r="1.08"/><circle cx="568.86" cy="96.51" r="1.08"/><circle cx="566.08" cy="98.53" r="1.08"/><circle cx="573.72" cy="97.8" r="1.08"/><circle cx="572.87" cy="97.06" r="1.08"/><circle cx="572.34" cy="96.47" r="1.08"/><circle cx="571.85" cy="97.5" r="1.08"/><circle cx="564.6" cy="102" r="1.08"/><circle cx="566.5" cy="103.2" r="1.08"/><circle cx="568" cy="101.3" r="1.08"/><circle cx="551.4" cy="117.7" r="1.08"/><circle cx="556.7" cy="118.6" r="1.08"/><circle cx="561" cy="111.6" r="1.08"/><circle cx="559" cy="114.5" r="1.08"/><circle cx="551" cy="117.3" r="1.08"/><circle cx="597.2" cy="67" r="1.08"/><circle cx="645" cy="95.3" r="1.08"/><circle cx="665" cy="95.3" r="1.08"/><circle cx="613.2" cy="124.5" r="1.08"/><circle cx="616.9" cy="123.7" r="1.08"/><circle cx="610" cy="82.1" r="1.08"/><circle cx="614" cy="82.1" r="1.08"/><circle cx="620" cy="82.1" r="1.08"/><circle cx="623" cy="82.1" r="1.08"/><circle cx="626" cy="82.1" r="1.08"/><circle cx="630" cy="82.1" r="1.08"/><circle cx="634.5" cy="82.1" r="1.08"/><circle cx="638" cy="82.1" r="1.08"/><circle cx="602" cy="88.2" r="1.08"/><circle cx="612" cy="88.2" r="1.08"/><circle cx="614" cy="88.5" r="1.08"/><circle cx="622" cy="88.2" r="1.08"/><circle cx="631" cy="88.2" r="1.08"/><circle cx="601" cy="95.3" r="1.08"/><circle cx="603" cy="95.6" r="1.08"/><circle cx="605" cy="95.3" r="1.08"/><circle cx="614" cy="95.3" r="1.08"/><circle cx="616" cy="95" r="1.08"/><circle cx="620" cy="95.3" r="1.08"/><circle cx="624" cy="95.5" r="1.08"/><circle cx="626" cy="95.8" r="1.08"/><circle cx="631.5" cy="95.5" r="1.08"/><circle cx="634" cy="95.5" r="1.08"/><circle cx="611" cy="99.4" r="1.08"/><circle cx="605" cy="105.9" r="1.08"/><circle cx="608.5" cy="105.5" r="1.08"/><circle cx="612" cy="106.2" r="1.08"/><circle cx="615" cy="106.2" r="1.08"/><circle cx="617" cy="106.4" r="1.08"/><circle cx="620" cy="106.6" r="1.08"/><circle cx="602" cy="111" r="1.08"/><circle cx="607" cy="113" r="1.08"/><circle cx="612.6" cy="113" r="1.08"/><circle cx="616.6" cy="112.8" r="1.08"/><circle cx="613" cy="124" r="1.08"/><circle cx="616.6" cy="123.5" r="1.08"/><circle cx="660.5" cy="68.5" r="1.08"/><circle cx="664.5" cy="69" r="1.08"/><circle cx="667" cy="68.5" r="1.08"/><circle cx="659" cy="55" r="1.08"/><circle cx="651" cy="52.5" r="1.08"/><circle cx="655" cy="56.5" r="1.08"/><circle cx="648" cy="58" r="1.08"/><circle cx="641" cy="66.5" r="1.08"/><circle cx="632" cy="66" r="1.08"/><circle cx="646" cy="62" r="1.08"/></g>
<g fill="none" stroke="#3a3af5" stroke-width="2.25" stroke-dasharray="5.6 2.6">
<path d="M551.6,126 C552.08,125.37 553.33,123.65 554.5,122.2 C555.67,120.75 556.57,119.75 558.6,117.3 C560.63,114.85 563.65,111.17 566.7,107.5 C569.75,103.83 573.52,99.05 576.9,95.3 C580.28,91.55 583.65,88.3 587,85 C590.35,81.7 594,78.17 597,75.5 C600,72.83 601.97,71.1 605,69 C608.03,66.9 611.63,64.73 615.2,62.9 C618.77,61.07 622.17,59.58 626.4,58 C630.63,56.42 635.6,54.62 640.6,53.4 C645.6,52.18 653.77,51.15 656.4,50.7"/>
<path d="M529.1,136.8 Q533.5,126.5 539.8,123.8 Q546.5,124.3 551.9,135.6"/>
</g>
<rect x="523.2" y="19.55" width="154.3" height="197.95" fill="none" stroke="#000" stroke-width="1.1"/>
<path d="M523.2,19.55 v-7 M523.2,217.5 v7 M536.06,19.55 v-3.6 M536.06,217.5 v3.6 M548.92,19.55 v-3.6 M548.92,217.5 v3.6 M561.77,19.55 v-3.6 M561.77,217.5 v3.6 M574.63,19.55 v-7 M574.63,217.5 v7 M587.49,19.55 v-3.6 M587.49,217.5 v3.6 M600.35,19.55 v-3.6 M600.35,217.5 v3.6 M613.21,19.55 v-3.6 M613.21,217.5 v3.6 M626.07,19.55 v-7 M626.07,217.5 v7 M638.92,19.55 v-3.6 M638.92,217.5 v3.6 M651.78,19.55 v-3.6 M651.78,217.5 v3.6 M664.64,19.55 v-3.6 M664.64,217.5 v3.6 M677.5,19.55 v-7 M677.5,217.5 v7 M523.2,19.55 h-7 M677.5,19.55 h7 M523.2,25.74 h-3.6 M677.5,25.74 h3.6 M523.2,31.92 h-3.6 M677.5,31.92 h3.6 M523.2,38.11 h-3.6 M677.5,38.11 h3.6 M523.2,44.29 h-3.6 M677.5,44.29 h3.6 M523.2,50.48 h-7 M677.5,50.48 h7 M523.2,56.67 h-3.6 M677.5,56.67 h3.6 M523.2,62.85 h-3.6 M677.5,62.85 h3.6 M523.2,69.04 h-3.6 M677.5,69.04 h3.6 M523.2,75.22 h-3.6 M677.5,75.22 h3.6 M523.2,81.41 h-7 M677.5,81.41 h7 M523.2,87.6 h-3.6 M677.5,87.6 h3.6 M523.2,93.78 h-3.6 M677.5,93.78 h3.6 M523.2,99.97 h-3.6 M677.5,99.97 h3.6 M523.2,106.15 h-3.6 M677.5,106.15 h3.6 M523.2,112.34 h-7 M677.5,112.34 h7 M523.2,118.52 h-3.6 M677.5,118.52 h3.6 M523.2,124.71 h-3.6 M677.5,124.71 h3.6 M523.2,130.9 h-3.6 M677.5,130.9 h3.6 M523.2,137.08 h-3.6 M677.5,137.08 h3.6 M523.2,143.27 h-7 M677.5,143.27 h7 M523.2,149.45 h-3.6 M677.5,149.45 h3.6 M523.2,155.64 h-3.6 M677.5,155.64 h3.6 M523.2,161.83 h-3.6 M677.5,161.83 h3.6 M523.2,168.01 h-3.6 M677.5,168.01 h3.6 M523.2,174.2 h-7 M677.5,174.2 h7 M523.2,180.38 h-3.6 M677.5,180.38 h3.6 M523.2,186.57 h-3.6 M677.5,186.57 h3.6 M523.2,192.76 h-3.6 M677.5,192.76 h3.6 M523.2,198.94 h-3.6 M677.5,198.94 h3.6 M523.2,205.13 h-7 M677.5,205.13 h7 M523.2,211.31 h-3.6 M677.5,211.31 h3.6 M523.2,217.5 h-3.6 M677.5,217.5 h3.6 " stroke="#000" stroke-width="0.85" fill="none"/>
<text x="523.2" y="237.8" font-size="8.35" text-anchor="middle">0</text>
<text x="574.63" y="237.8" font-size="8.35" text-anchor="middle">20</text>
<text x="626.07" y="237.8" font-size="8.35" text-anchor="middle">40</text>
<text x="677.5" y="237.8" font-size="8.35" text-anchor="middle">60</text>
<text x="509.2" y="23" font-size="8.35" text-anchor="end">0</text>
<text x="509.2" y="53.93" font-size="8.35" text-anchor="end">5</text>
<text x="509.2" y="84.86" font-size="8.35" text-anchor="end">10</text>
<text x="509.2" y="115.79" font-size="8.35" text-anchor="end">15</text>
<text x="509.2" y="146.72" font-size="8.35" text-anchor="end">20</text>
<text x="509.2" y="177.65" font-size="8.35" text-anchor="end">25</text>
<text x="509.2" y="208.58" font-size="8.35" text-anchor="end">30</text>
<text x="600.5" y="248.6" font-size="9.75" text-anchor="middle">Distance [km]</text>
<text transform="translate(497.3,118.4) rotate(-90)" font-size="9.75" text-anchor="middle">Days elapsed from Dec. 6, 2020</text>
<text x="523.2" y="11.7" font-size="9.75" font-weight="bold" text-anchor="middle">X</text>
<text x="677.5" y="11.7" font-size="9.75" font-weight="bold" text-anchor="middle">Y</text>
</g>
<text x="489.6" y="6.9" font-size="9" font-weight="bold">(c)</text>
</svg></body></html>
